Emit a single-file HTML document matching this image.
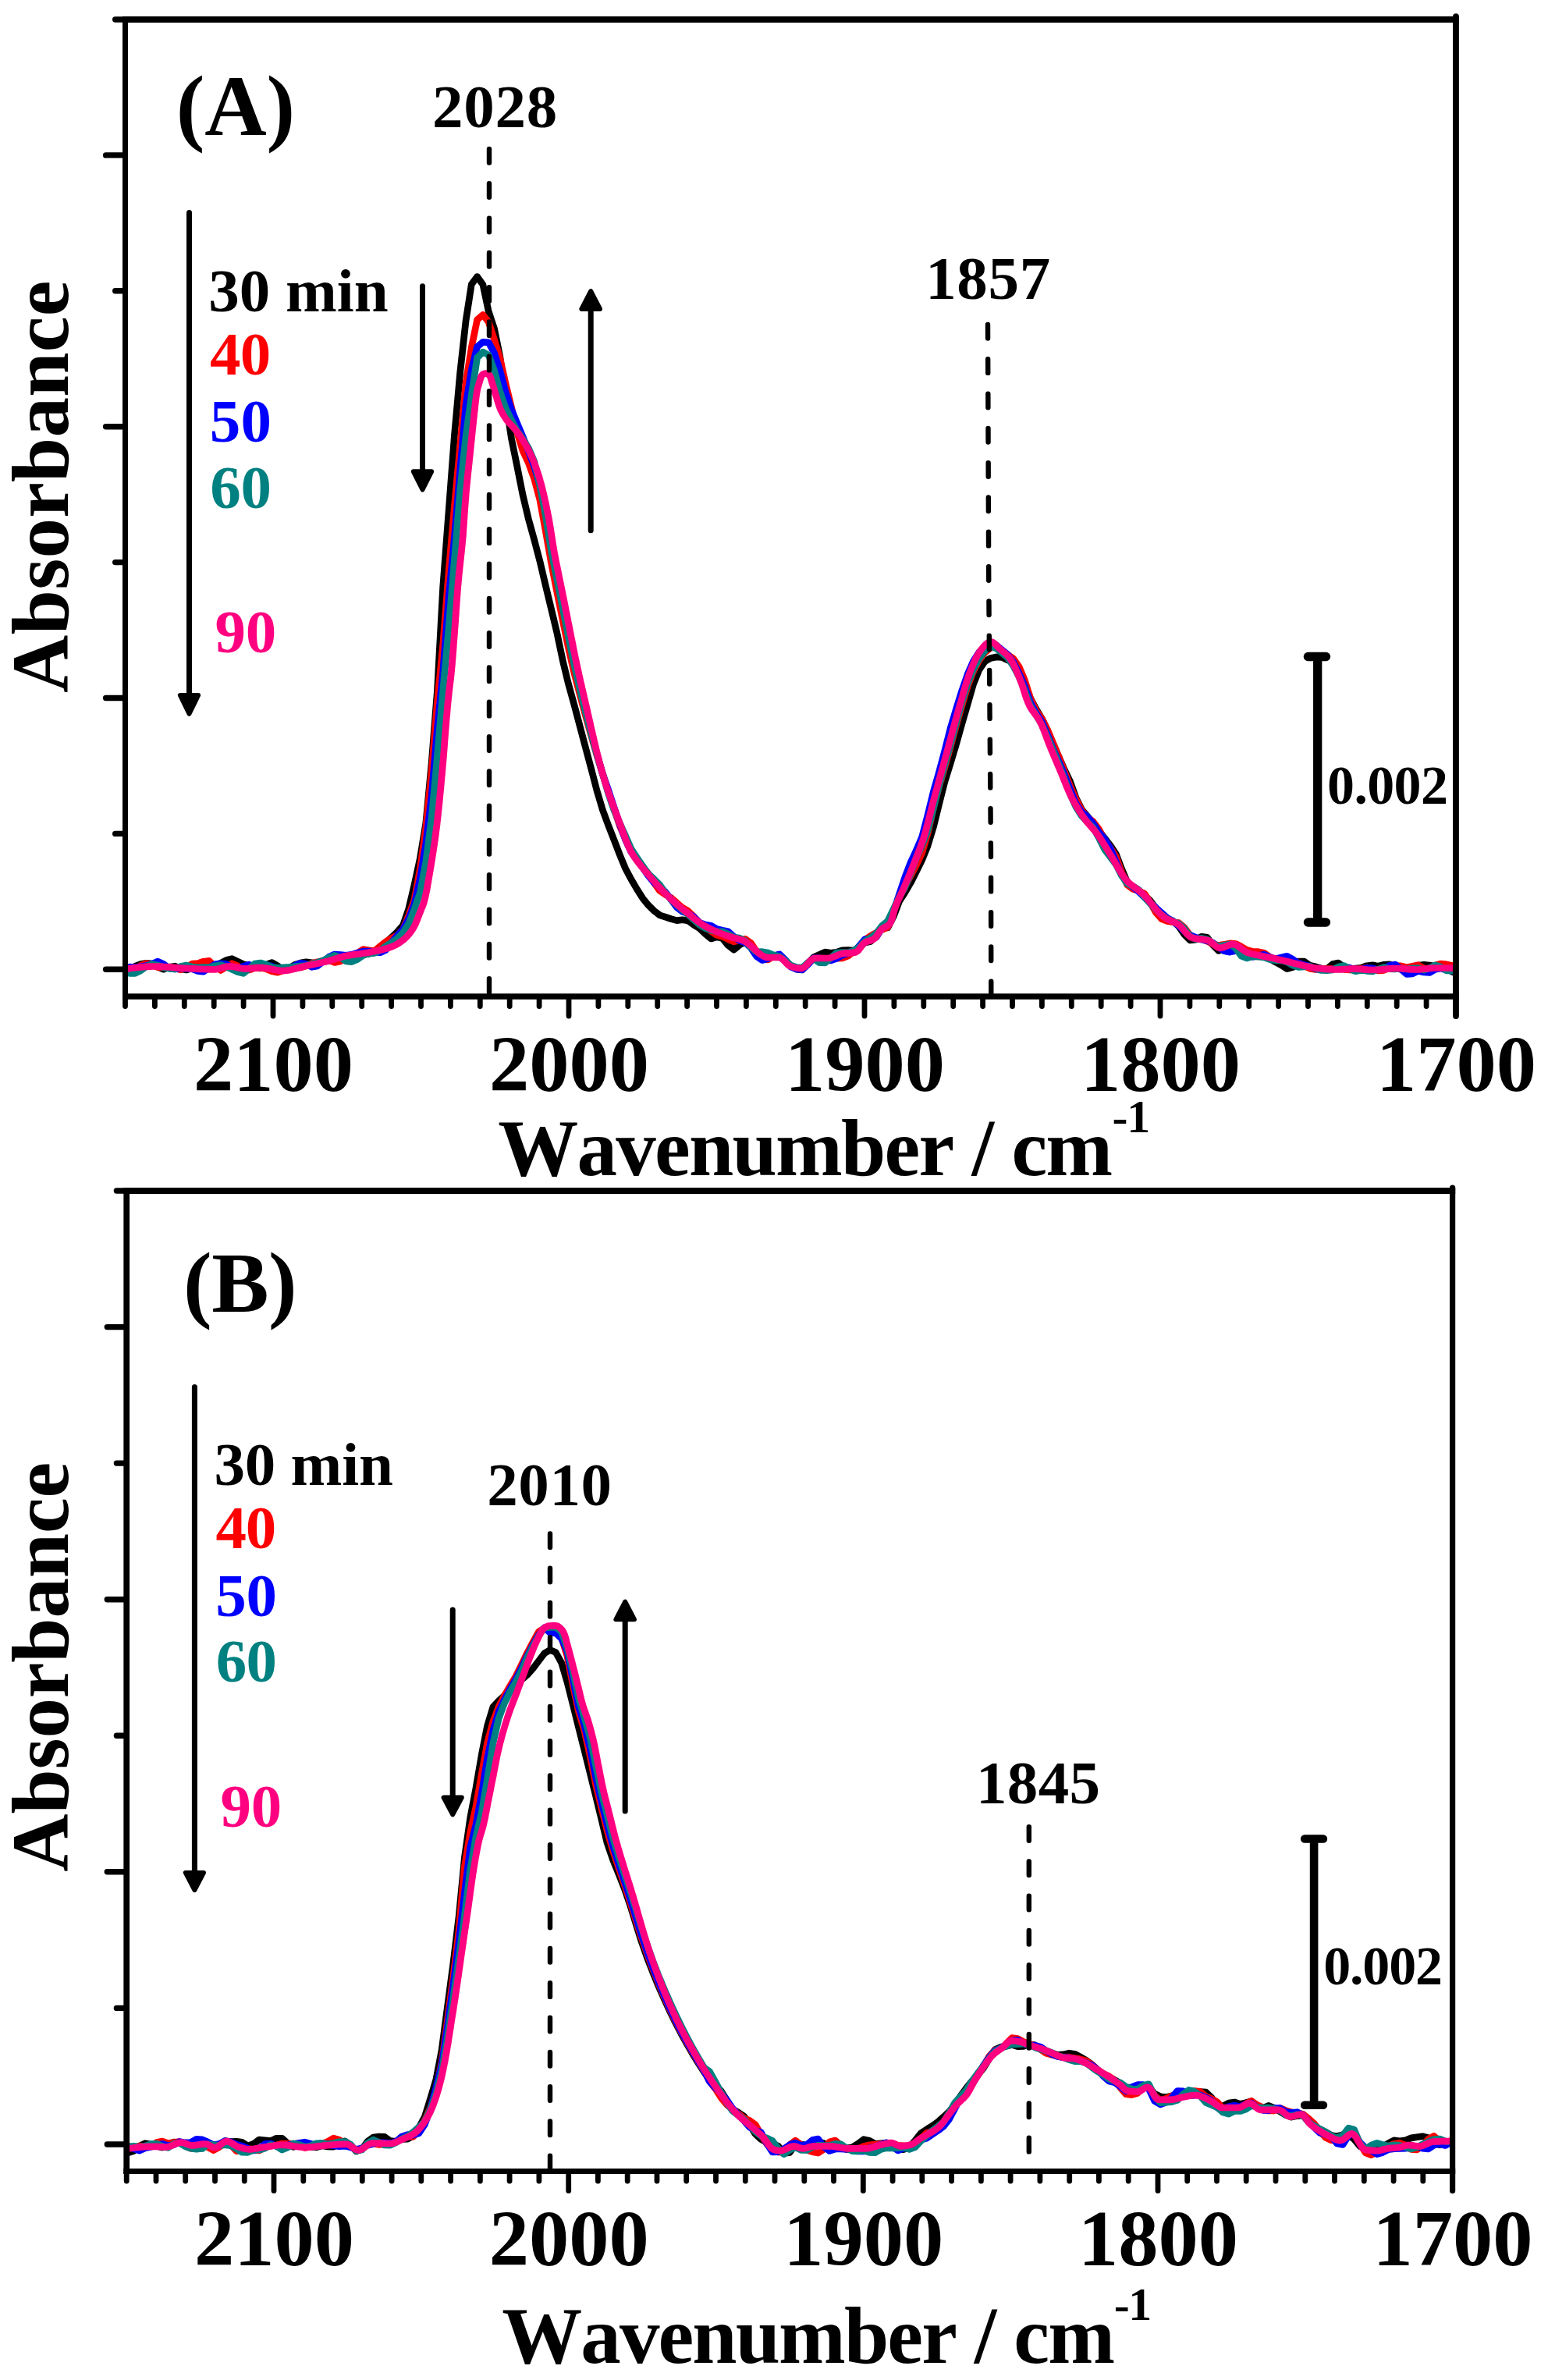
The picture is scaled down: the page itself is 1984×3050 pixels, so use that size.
<!DOCTYPE html>
<html><head><meta charset="utf-8"><title>FTIR spectra</title>
<style>
html,body{margin:0;padding:0;background:#fff;overflow:hidden;width:1984px;height:3050px;}
svg{display:block;}
text{font-family:"Liberation Serif","Times New Roman",Times,serif;font-weight:bold;font-kerning:none;}
</style></head><body>
<svg width="1984" height="3050" viewBox="0 0 1984 3050">
<rect width="1984" height="3050" fill="#fff"/>
<g id="panelA">
<clipPath id="clipA"><rect x="160.5" y="25.0" width="1705.5" height="1252.0"/></clipPath>
<g clip-path="url(#clipA)">
<path d="M160.5,1245.8 L165.8,1241.6 L173.1,1238.4 L180.4,1235.5 L187.7,1234.4 L195.0,1235.0 L202.3,1239.3 L209.6,1242.2 L216.9,1239.2 L224.2,1238.2 L231.5,1241.6 L238.8,1243.0 L246.2,1240.7 L253.5,1239.1 L260.8,1241.5 L268.1,1242.0 L275.4,1238.7 L282.7,1234.3 L290.0,1230.5 L297.3,1228.7 L304.6,1232.1 L311.9,1235.6 L319.2,1237.4 L326.5,1239.4 L333.9,1240.6 L341.2,1236.4 L348.5,1233.5 L355.8,1237.7 L363.1,1243.1 L370.4,1240.9 L377.7,1236.4 L385.0,1234.1 L392.3,1232.8 L399.6,1233.9 L406.9,1235.1 L414.3,1232.2 L421.6,1231.4 L428.9,1231.5 L436.2,1228.0 L443.5,1225.9 L450.8,1226.0 L458.1,1223.1 L465.4,1220.1 L472.7,1222.3 L480.0,1220.7 L487.3,1213.0 L494.7,1207.5 L502.0,1201.1 L509.3,1194.0 L516.6,1185.7 L523.9,1164.3 L531.2,1133.3 L538.5,1099.3 L545.8,1055.0 L553.1,978.3 L560.4,885.9 L567.7,752.3 L575.1,654.9 L582.4,558.3 L589.7,477.5 L597.0,411.5 L604.3,364.4 L611.6,354.5 L618.9,364.7 L626.2,399.1 L633.5,421.1 L640.8,456.8 L648.1,513.7 L655.5,562.0 L662.8,597.9 L670.1,634.6 L677.4,665.3 L684.7,691.6 L692.0,719.6 L699.3,750.6 L706.6,780.8 L713.9,811.3 L721.2,846.2 L728.5,876.4 L735.9,903.2 L743.2,930.6 L750.5,958.1 L757.8,985.5 L765.1,1013.5 L772.4,1038.0 L779.7,1057.8 L787.0,1076.4 L794.3,1095.4 L801.6,1113.0 L808.9,1126.8 L816.3,1139.4 L823.6,1150.9 L830.9,1159.9 L838.2,1167.1 L845.5,1172.8 L852.8,1175.1 L860.1,1177.6 L867.4,1179.6 L874.7,1178.8 L882.0,1179.9 L889.3,1185.3 L896.7,1189.9 L904.0,1196.9 L911.3,1203.0 L918.6,1200.8 L925.9,1202.4 L933.2,1211.4 L940.5,1217.2 L947.8,1211.1 L955.1,1206.3 L962.4,1214.3 L969.7,1219.7 L977.0,1222.0 L984.4,1225.1 L991.7,1225.3 L999.0,1224.5 L1006.3,1230.3 L1013.6,1238.0 L1020.9,1242.2 L1028.2,1242.9 L1035.5,1234.3 L1042.8,1226.7 L1050.1,1223.4 L1057.4,1220.1 L1064.8,1221.3 L1072.1,1220.4 L1079.4,1217.8 L1086.7,1217.5 L1094.0,1218.2 L1101.3,1214.4 L1108.6,1208.0 L1115.9,1206.4 L1123.2,1199.2 L1130.5,1188.6 L1137.8,1189.0 L1145.2,1174.6 L1152.5,1155.2 L1159.8,1143.8 L1167.1,1131.4 L1174.4,1117.1 L1181.7,1102.1 L1189.0,1084.1 L1196.3,1060.1 L1203.6,1030.4 L1210.9,1001.7 L1218.2,978.3 L1225.6,953.6 L1232.9,927.4 L1240.2,902.2 L1247.5,876.8 L1254.8,858.6 L1262.1,847.8 L1269.4,843.5 L1276.7,841.9 L1284.0,842.4 L1291.3,845.8 L1298.6,847.9 L1306.0,858.2 L1313.3,875.2 L1320.6,894.7 L1327.9,908.6 L1335.2,920.7 L1342.5,935.9 L1349.8,953.3 L1357.1,970.0 L1364.4,986.7 L1371.7,1001.9 L1379.0,1022.4 L1386.4,1037.3 L1393.7,1046.1 L1401.0,1055.2 L1408.3,1064.3 L1415.6,1073.8 L1422.9,1083.3 L1430.2,1094.1 L1437.5,1113.3 L1444.8,1130.4 L1452.1,1137.1 L1459.4,1141.3 L1466.8,1147.4 L1474.1,1154.0 L1481.4,1163.9 L1488.7,1173.2 L1496.0,1177.6 L1503.3,1180.1 L1510.6,1187.0 L1517.9,1197.6 L1525.2,1204.8 L1532.5,1204.1 L1539.8,1200.4 L1547.2,1201.4 L1554.5,1211.2 L1561.8,1218.4 L1569.1,1215.6 L1576.4,1213.3 L1583.7,1215.4 L1591.0,1220.8 L1598.3,1223.8 L1605.6,1225.3 L1612.9,1225.9 L1620.2,1225.8 L1627.6,1228.5 L1634.9,1233.0 L1642.2,1236.8 L1649.5,1241.5 L1656.8,1239.6 L1664.1,1232.1 L1671.4,1232.1 L1678.7,1237.3 L1686.0,1238.8 L1693.3,1241.0 L1700.6,1241.8 L1708.0,1235.5 L1715.3,1234.0 L1722.6,1239.5 L1729.9,1241.9 L1737.2,1241.0 L1744.5,1240.4 L1751.8,1237.7 L1759.1,1236.8 L1766.4,1238.2 L1773.7,1236.3 L1781.0,1235.8 L1788.3,1239.7 L1795.7,1242.5 L1803.0,1241.3 L1810.3,1239.0 L1817.6,1237.3 L1824.9,1236.3 L1832.2,1237.0 L1839.5,1238.4 L1846.8,1239.1 L1854.1,1240.8 L1861.4,1245.4 L1866.0,1247.1" fill="none" stroke="#000" stroke-width="8.7" stroke-linejoin="round" stroke-linecap="butt"/>
<path d="M160.5,1240.4 L165.8,1241.3 L173.1,1241.1 L180.4,1237.3 L187.7,1234.7 L195.0,1236.5 L202.3,1239.6 L209.6,1239.8 L216.9,1239.1 L224.2,1240.9 L231.5,1242.9 L238.8,1239.5 L246.2,1235.2 L253.5,1234.6 L260.8,1232.2 L268.1,1231.3 L275.4,1238.5 L282.7,1243.5 L290.0,1239.3 L297.3,1234.7 L304.6,1237.7 L311.9,1242.9 L319.2,1243.0 L326.5,1240.6 L333.9,1240.0 L341.2,1241.8 L348.5,1244.8 L355.8,1246.1 L363.1,1243.9 L370.4,1241.7 L377.7,1240.5 L385.0,1240.0 L392.3,1237.8 L399.6,1234.5 L406.9,1232.7 L414.3,1231.2 L421.6,1230.4 L428.9,1233.4 L436.2,1232.0 L443.5,1226.9 L450.8,1225.5 L458.1,1221.4 L465.4,1216.6 L472.7,1217.8 L480.0,1218.6 L487.3,1212.6 L494.7,1206.6 L502.0,1202.1 L509.3,1198.6 L516.6,1190.7 L523.9,1173.2 L531.2,1152.6 L538.5,1112.9 L545.8,1061.2 L553.1,989.1 L560.4,900.7 L567.7,826.5 L575.1,732.5 L582.4,649.0 L589.7,571.3 L597.0,491.2 L604.3,445.2 L611.6,409.8 L618.9,403.4 L626.2,412.6 L633.5,435.1 L640.8,459.1 L648.1,491.6 L655.5,522.1 L662.8,554.1 L670.1,577.9 L677.4,593.4 L684.7,613.6 L692.0,641.0 L699.3,680.6 L706.6,722.0 L713.9,759.0 L721.2,795.0 L728.5,830.2 L735.9,862.5 L743.2,890.2 L750.5,917.0 L757.8,943.1 L765.1,968.2 L772.4,991.9 L779.7,1014.2 L787.0,1036.9 L794.3,1058.2 L801.6,1075.3 L808.9,1090.2 L816.3,1102.6 L823.6,1111.3 L830.9,1119.4 L838.2,1131.3 L845.5,1141.5 L852.8,1146.4 L860.1,1150.5 L867.4,1157.0 L874.7,1163.2 L882.0,1167.6 L889.3,1174.7 L896.7,1182.7 L904.0,1187.7 L911.3,1193.4 L918.6,1198.3 L925.9,1200.2 L933.2,1203.7 L940.5,1206.8 L947.8,1205.0 L955.1,1203.3 L962.4,1208.5 L969.7,1219.4 L977.0,1229.4 L984.4,1229.9 L991.7,1224.9 L999.0,1223.3 L1006.3,1230.7 L1013.6,1238.2 L1020.9,1240.6 L1028.2,1241.2 L1035.5,1235.2 L1042.8,1228.1 L1050.1,1227.8 L1057.4,1228.3 L1064.8,1228.0 L1072.1,1228.1 L1079.4,1227.9 L1086.7,1225.2 L1094.0,1219.5 L1101.3,1213.0 L1108.6,1204.1 L1115.9,1199.3 L1123.2,1195.2 L1130.5,1191.4 L1137.8,1188.3 L1145.2,1168.9 L1152.5,1148.4 L1159.8,1136.1 L1167.1,1122.3 L1174.4,1108.6 L1181.7,1093.0 L1189.0,1068.3 L1196.3,1035.9 L1203.6,1007.6 L1210.9,983.4 L1218.2,956.9 L1225.6,929.6 L1232.9,904.0 L1240.2,879.4 L1247.5,860.4 L1254.8,846.5 L1262.1,836.5 L1269.4,830.3 L1276.7,829.1 L1284.0,834.3 L1291.3,839.0 L1298.6,843.9 L1306.0,854.2 L1313.3,871.5 L1320.6,894.9 L1327.9,910.5 L1335.2,920.7 L1342.5,935.1 L1349.8,952.6 L1357.1,970.0 L1364.4,988.9 L1371.7,1007.6 L1379.0,1024.1 L1386.4,1038.3 L1393.7,1047.4 L1401.0,1052.8 L1408.3,1062.3 L1415.6,1076.2 L1422.9,1086.1 L1430.2,1097.5 L1437.5,1118.0 L1444.8,1134.1 L1452.1,1139.4 L1459.4,1141.7 L1466.8,1145.1 L1474.1,1156.4 L1481.4,1169.4 L1488.7,1177.6 L1496.0,1180.4 L1503.3,1181.8 L1510.6,1182.6 L1517.9,1188.7 L1525.2,1198.4 L1532.5,1202.9 L1539.8,1203.4 L1547.2,1206.2 L1554.5,1209.9 L1561.8,1211.6 L1569.1,1210.4 L1576.4,1208.9 L1583.7,1209.5 L1591.0,1213.2 L1598.3,1217.4 L1605.6,1219.5 L1612.9,1219.7 L1620.2,1221.2 L1627.6,1226.6 L1634.9,1228.8 L1642.2,1227.9 L1649.5,1229.3 L1656.8,1231.2 L1664.1,1233.8 L1671.4,1237.7 L1678.7,1241.1 L1686.0,1242.4 L1693.3,1241.9 L1700.6,1241.6 L1708.0,1241.4 L1715.3,1241.1 L1722.6,1242.3 L1729.9,1242.9 L1737.2,1242.8 L1744.5,1241.3 L1751.8,1239.9 L1759.1,1241.4 L1766.4,1244.0 L1773.7,1243.3 L1781.0,1240.5 L1788.3,1237.5 L1795.7,1237.9 L1803.0,1239.7 L1810.3,1238.3 L1817.6,1236.7 L1824.9,1240.8 L1832.2,1241.5 L1839.5,1236.9 L1846.8,1235.0 L1854.1,1235.9 L1861.4,1237.4 L1866.0,1238.2" fill="none" stroke="#ff0000" stroke-width="8.7" stroke-linejoin="round" stroke-linecap="butt"/>
<path d="M160.5,1240.0 L165.8,1239.2 L173.1,1239.6 L180.4,1238.9 L187.7,1237.6 L195.0,1235.2 L202.3,1232.1 L209.6,1235.4 L216.9,1241.0 L224.2,1242.0 L231.5,1240.7 L238.8,1241.4 L246.2,1241.7 L253.5,1244.5 L260.8,1245.2 L268.1,1240.2 L275.4,1235.9 L282.7,1234.8 L290.0,1235.4 L297.3,1239.7 L304.6,1241.7 L311.9,1238.3 L319.2,1236.1 L326.5,1239.6 L333.9,1239.2 L341.2,1236.6 L348.5,1238.3 L355.8,1243.0 L363.1,1243.6 L370.4,1241.6 L377.7,1237.5 L385.0,1234.3 L392.3,1235.3 L399.6,1239.3 L406.9,1237.9 L414.3,1232.1 L421.6,1226.3 L428.9,1223.0 L436.2,1223.5 L443.5,1224.4 L450.8,1223.4 L458.1,1221.1 L465.4,1219.1 L472.7,1219.0 L480.0,1220.1 L487.3,1220.7 L494.7,1217.2 L502.0,1207.7 L509.3,1198.7 L516.6,1191.1 L523.9,1177.0 L531.2,1158.3 L538.5,1125.7 L545.8,1081.1 L553.1,1020.2 L560.4,934.4 L567.7,861.6 L575.1,765.7 L582.4,689.4 L589.7,602.8 L597.0,519.1 L604.3,473.7 L611.6,444.3 L618.9,438.3 L626.2,438.9 L633.5,452.4 L640.8,474.8 L648.1,502.6 L655.5,524.6 L662.8,542.4 L670.1,559.7 L677.4,578.0 L684.7,597.8 L692.0,621.6 L699.3,654.6 L706.6,697.4 L713.9,735.6 L721.2,771.7 L728.5,808.6 L735.9,845.0 L743.2,878.5 L750.5,909.3 L757.8,938.7 L765.1,966.4 L772.4,991.8 L779.7,1012.5 L787.0,1034.7 L794.3,1056.2 L801.6,1076.1 L808.9,1091.8 L816.3,1101.8 L823.6,1111.7 L830.9,1122.2 L838.2,1131.1 L845.5,1136.7 L852.8,1143.0 L860.1,1152.9 L867.4,1162.7 L874.7,1168.3 L882.0,1170.7 L889.3,1175.0 L896.7,1182.4 L904.0,1185.0 L911.3,1186.2 L918.6,1190.5 L925.9,1192.2 L933.2,1193.7 L940.5,1200.2 L947.8,1205.4 L955.1,1207.9 L962.4,1214.8 L969.7,1225.7 L977.0,1230.5 L984.4,1228.5 L991.7,1224.7 L999.0,1222.9 L1006.3,1229.9 L1013.6,1239.2 L1020.9,1242.0 L1028.2,1242.8 L1035.5,1236.1 L1042.8,1227.8 L1050.1,1227.8 L1057.4,1230.4 L1064.8,1231.0 L1072.1,1228.4 L1079.4,1224.0 L1086.7,1221.6 L1094.0,1219.9 L1101.3,1212.3 L1108.6,1203.5 L1115.9,1204.4 L1123.2,1201.1 L1130.5,1189.2 L1137.8,1182.9 L1145.2,1168.0 L1152.5,1146.0 L1159.8,1124.4 L1167.1,1105.3 L1174.4,1089.7 L1181.7,1072.5 L1189.0,1044.5 L1196.3,1014.7 L1203.6,989.1 L1210.9,961.8 L1218.2,933.1 L1225.6,908.2 L1232.9,884.9 L1240.2,863.8 L1247.5,847.3 L1254.8,835.8 L1262.1,829.2 L1269.4,825.8 L1276.7,826.7 L1284.0,832.6 L1291.3,838.7 L1298.6,848.3 L1306.0,862.8 L1313.3,879.6 L1320.6,900.2 L1327.9,913.8 L1335.2,924.8 L1342.5,941.7 L1349.8,960.1 L1357.1,976.1 L1364.4,993.0 L1371.7,1012.0 L1379.0,1029.9 L1386.4,1040.7 L1393.7,1046.5 L1401.0,1055.2 L1408.3,1066.2 L1415.6,1074.9 L1422.9,1086.8 L1430.2,1104.2 L1437.5,1121.2 L1444.8,1130.4 L1452.1,1136.7 L1459.4,1142.7 L1466.8,1149.9 L1474.1,1157.2 L1481.4,1163.2 L1488.7,1169.7 L1496.0,1176.2 L1503.3,1180.5 L1510.6,1186.3 L1517.9,1193.3 L1525.2,1198.4 L1532.5,1201.3 L1539.8,1204.1 L1547.2,1205.7 L1554.5,1208.2 L1561.8,1214.0 L1569.1,1218.8 L1576.4,1220.1 L1583.7,1218.6 L1591.0,1218.6 L1598.3,1223.0 L1605.6,1226.4 L1612.9,1224.6 L1620.2,1223.3 L1627.6,1226.8 L1634.9,1228.9 L1642.2,1226.9 L1649.5,1225.3 L1656.8,1229.3 L1664.1,1234.5 L1671.4,1236.5 L1678.7,1238.2 L1686.0,1241.6 L1693.3,1242.6 L1700.6,1242.7 L1708.0,1242.0 L1715.3,1240.5 L1722.6,1238.8 L1729.9,1240.3 L1737.2,1242.9 L1744.5,1242.5 L1751.8,1240.4 L1759.1,1240.9 L1766.4,1242.7 L1773.7,1241.4 L1781.0,1237.2 L1788.3,1236.0 L1795.7,1242.2 L1803.0,1248.5 L1810.3,1247.8 L1817.6,1244.3 L1824.9,1246.0 L1832.2,1246.4 L1839.5,1242.2 L1846.8,1240.9 L1854.1,1243.5 L1861.4,1244.2 L1866.0,1241.8" fill="none" stroke="#0000ff" stroke-width="8.7" stroke-linejoin="round" stroke-linecap="butt"/>
<path d="M160.5,1242.7 L165.8,1247.3 L173.1,1247.4 L180.4,1243.8 L187.7,1238.5 L195.0,1235.5 L202.3,1237.2 L209.6,1239.9 L216.9,1241.1 L224.2,1241.8 L231.5,1238.4 L238.8,1237.0 L246.2,1239.0 L253.5,1240.0 L260.8,1239.5 L268.1,1239.9 L275.4,1237.7 L282.7,1236.6 L290.0,1239.1 L297.3,1242.2 L304.6,1245.5 L311.9,1247.4 L319.2,1241.4 L326.5,1235.0 L333.9,1234.0 L341.2,1236.1 L348.5,1239.5 L355.8,1240.4 L363.1,1239.8 L370.4,1239.4 L377.7,1238.8 L385.0,1238.1 L392.3,1237.5 L399.6,1235.3 L406.9,1233.4 L414.3,1230.9 L421.6,1227.0 L428.9,1224.3 L436.2,1227.0 L443.5,1232.0 L450.8,1232.6 L458.1,1229.4 L465.4,1224.4 L472.7,1221.8 L480.0,1221.3 L487.3,1217.9 L494.7,1212.3 L502.0,1208.0 L509.3,1202.5 L516.6,1195.0 L523.9,1183.6 L531.2,1164.8 L538.5,1143.8 L545.8,1104.6 L553.1,1049.4 L560.4,970.0 L567.7,885.7 L575.1,805.0 L582.4,717.6 L589.7,628.9 L597.0,559.6 L604.3,506.4 L611.6,458.4 L618.9,451.2 L626.2,455.0 L633.5,474.8 L640.8,501.9 L648.1,523.1 L655.5,538.3 L662.8,552.2 L670.1,562.4 L677.4,574.2 L684.7,591.2 L692.0,622.8 L699.3,660.7 L706.6,706.4 L713.9,743.0 L721.2,779.2 L728.5,816.1 L735.9,852.1 L743.2,883.5 L750.5,912.7 L757.8,940.7 L765.1,967.2 L772.4,991.8 L779.7,1017.0 L787.0,1038.3 L794.3,1054.7 L801.6,1071.1 L808.9,1087.5 L816.3,1099.1 L823.6,1109.4 L830.9,1119.7 L838.2,1126.5 L845.5,1133.8 L852.8,1144.2 L860.1,1153.1 L867.4,1159.6 L874.7,1166.2 L882.0,1172.1 L889.3,1178.7 L896.7,1185.2 L904.0,1189.5 L911.3,1192.3 L918.6,1193.6 L925.9,1193.8 L933.2,1196.9 L940.5,1201.2 L947.8,1202.1 L955.1,1205.9 L962.4,1214.6 L969.7,1219.9 L977.0,1219.7 L984.4,1221.0 L991.7,1224.0 L999.0,1225.7 L1006.3,1230.9 L1013.6,1237.0 L1020.9,1239.7 L1028.2,1240.2 L1035.5,1233.6 L1042.8,1228.6 L1050.1,1233.6 L1057.4,1234.0 L1064.8,1227.6 L1072.1,1221.1 L1079.4,1220.5 L1086.7,1220.6 L1094.0,1218.4 L1101.3,1213.7 L1108.6,1205.9 L1115.9,1201.6 L1123.2,1195.9 L1130.5,1186.4 L1137.8,1180.2 L1145.2,1165.0 L1152.5,1149.6 L1159.8,1137.5 L1167.1,1119.3 L1174.4,1099.6 L1181.7,1083.4 L1189.0,1064.4 L1196.3,1036.1 L1203.6,1006.6 L1210.9,980.1 L1218.2,953.9 L1225.6,926.3 L1232.9,899.7 L1240.2,875.9 L1247.5,857.9 L1254.8,844.1 L1262.1,834.1 L1269.4,828.2 L1276.7,830.9 L1284.0,836.6 L1291.3,842.7 L1298.6,853.2 L1306.0,867.3 L1313.3,884.8 L1320.6,904.5 L1327.9,916.5 L1335.2,928.4 L1342.5,944.8 L1349.8,961.7 L1357.1,979.8 L1364.4,998.7 L1371.7,1018.2 L1379.0,1034.2 L1386.4,1045.8 L1393.7,1053.5 L1401.0,1060.7 L1408.3,1073.5 L1415.6,1088.3 L1422.9,1098.1 L1430.2,1107.8 L1437.5,1122.1 L1444.8,1132.5 L1452.1,1135.7 L1459.4,1140.3 L1466.8,1149.6 L1474.1,1157.9 L1481.4,1165.4 L1488.7,1172.4 L1496.0,1177.6 L1503.3,1180.8 L1510.6,1183.6 L1517.9,1190.1 L1525.2,1199.9 L1532.5,1203.5 L1539.8,1202.2 L1547.2,1203.9 L1554.5,1209.0 L1561.8,1212.9 L1569.1,1211.3 L1576.4,1209.9 L1583.7,1215.1 L1591.0,1225.2 L1598.3,1227.9 L1605.6,1225.7 L1612.9,1225.8 L1620.2,1227.0 L1627.6,1229.6 L1634.9,1230.8 L1642.2,1230.6 L1649.5,1232.8 L1656.8,1237.1 L1664.1,1239.3 L1671.4,1239.0 L1678.7,1238.3 L1686.0,1241.2 L1693.3,1243.5 L1700.6,1243.7 L1708.0,1242.9 L1715.3,1239.1 L1722.6,1237.6 L1729.9,1242.0 L1737.2,1244.7 L1744.5,1243.4 L1751.8,1244.3 L1759.1,1244.9 L1766.4,1242.1 L1773.7,1239.6 L1781.0,1241.6 L1788.3,1241.8 L1795.7,1241.0 L1803.0,1242.0 L1810.3,1241.0 L1817.6,1240.6 L1824.9,1243.2 L1832.2,1240.7 L1839.5,1236.8 L1846.8,1239.2 L1854.1,1243.8 L1861.4,1244.0 L1866.0,1240.5" fill="none" stroke="#008080" stroke-width="8.7" stroke-linejoin="round" stroke-linecap="butt"/>
<path d="M160.5,1242.0 L163.0,1241.6 L165.5,1241.2 L168.0,1240.8 L170.4,1240.5 L172.9,1240.1 L175.4,1239.8 L177.9,1239.6 L180.4,1239.3 L182.9,1239.1 L185.4,1238.9 L187.9,1238.8 L190.4,1238.7 L192.9,1238.6 L195.3,1238.5 L197.8,1238.5 L200.3,1238.5 L202.8,1238.6 L205.3,1238.7 L207.8,1238.8 L210.3,1239.0 L212.8,1239.1 L215.3,1239.3 L217.8,1239.5 L220.3,1239.7 L222.8,1239.9 L225.3,1240.1 L227.8,1240.3 L230.3,1240.5 L232.8,1240.6 L235.3,1240.8 L237.8,1240.9 L240.3,1241.0 L242.8,1241.1 L245.3,1241.3 L247.8,1241.4 L250.3,1241.5 L252.8,1241.6 L255.3,1241.8 L257.8,1241.9 L260.3,1242.0 L262.8,1242.1 L265.3,1242.2 L267.8,1242.2 L270.3,1242.3 L272.8,1242.3 L275.2,1242.3 L277.7,1242.1 L280.2,1241.6 L282.6,1241.0 L285.0,1240.2 L287.5,1239.5 L289.9,1238.9 L292.4,1238.5 L294.8,1238.4 L297.3,1238.6 L299.8,1239.0 L302.2,1239.5 L304.7,1240.0 L307.2,1240.6 L309.7,1241.0 L312.1,1241.3 L314.6,1241.4 L317.1,1241.3 L319.6,1241.1 L322.1,1240.9 L324.6,1240.6 L327.1,1240.3 L329.6,1240.1 L332.1,1240.0 L334.6,1240.0 L337.0,1240.2 L339.5,1240.5 L342.0,1240.9 L344.5,1241.3 L347.0,1241.8 L349.4,1242.4 L351.9,1242.8 L354.4,1243.3 L356.9,1243.6 L359.3,1243.9 L361.8,1244.0 L364.3,1243.9 L366.7,1243.7 L369.2,1243.4 L371.6,1243.0 L374.1,1242.4 L376.5,1241.8 L379.0,1241.2 L381.4,1240.5 L383.9,1239.9 L386.3,1239.2 L388.7,1238.6 L391.2,1238.0 L393.6,1237.5 L396.1,1237.0 L398.5,1236.5 L401.0,1236.0 L403.4,1235.5 L405.9,1234.9 L408.3,1234.4 L410.8,1233.9 L413.2,1233.3 L415.6,1232.8 L418.1,1232.2 L420.5,1231.6 L422.9,1230.9 L425.3,1230.2 L427.7,1229.5 L430.1,1228.8 L432.5,1228.0 L434.9,1227.3 L437.3,1226.6 L439.7,1225.9 L442.1,1225.3 L444.5,1224.8 L447.0,1224.4 L449.5,1224.0 L451.9,1223.6 L454.4,1223.2 L456.9,1222.9 L459.4,1222.5 L461.8,1222.2 L464.3,1221.8 L466.8,1221.5 L469.3,1221.1 L471.8,1220.7 L474.2,1220.3 L476.7,1219.8 L479.1,1219.3 L481.6,1218.8 L484.1,1218.3 L486.5,1217.8 L489.0,1217.2 L491.5,1216.6 L493.9,1215.9 L496.3,1215.2 L498.6,1214.5 L500.9,1213.7 L503.2,1212.8 L505.5,1211.8 L507.7,1210.6 L510.0,1209.3 L512.1,1208.0 L514.2,1206.5 L516.2,1205.0 L518.1,1203.5 L519.8,1201.8 L521.6,1200.1 L523.3,1198.2 L524.9,1196.2 L526.5,1194.2 L527.9,1192.1 L529.3,1190.0 L530.6,1187.8 L531.7,1185.7 L532.8,1183.4 L533.7,1181.1 L534.7,1178.8 L535.6,1176.4 L536.4,1174.1 L537.3,1171.7 L538.3,1169.4 L539.2,1167.1 L540.2,1164.7 L541.1,1162.4 L542.0,1160.1 L542.9,1157.7 L543.6,1155.4 L544.2,1153.0 L544.8,1150.6 L545.4,1148.1 L545.9,1145.7 L546.4,1143.2 L546.9,1140.8 L547.4,1138.3 L547.8,1135.8 L548.2,1133.4 L548.7,1130.9 L549.1,1128.4 L549.5,1125.9 L549.9,1123.5 L550.3,1121.0 L550.8,1118.6 L551.2,1116.1 L551.6,1113.6 L552.0,1111.2 L552.4,1108.7 L552.8,1106.2 L553.2,1103.8 L553.6,1101.3 L554.0,1098.8 L554.4,1096.3 L554.8,1093.9 L555.2,1091.4 L555.6,1088.9 L555.9,1086.5 L556.3,1084.0 L556.7,1081.5 L557.0,1079.0 L557.4,1076.6 L557.7,1074.1 L558.1,1071.6 L558.4,1069.1 L558.7,1066.6 L559.0,1064.2 L559.3,1061.7 L559.7,1059.2 L560.0,1056.7 L560.2,1054.3 L560.5,1051.8 L560.8,1049.3 L561.1,1046.8 L561.4,1044.3 L561.6,1041.8 L561.9,1039.3 L562.2,1036.9 L562.4,1034.4 L562.7,1031.9 L562.9,1029.4 L563.2,1026.9 L563.4,1024.4 L563.7,1021.9 L563.9,1019.4 L564.1,1017.0 L564.4,1014.5 L564.6,1012.0 L564.9,1009.5 L565.1,1007.0 L565.3,1004.5 L565.5,1002.0 L565.8,999.5 L566.0,997.0 L566.2,994.5 L566.5,992.1 L566.7,989.6 L566.9,987.1 L567.1,984.6 L567.3,982.1 L567.5,979.6 L567.8,977.1 L568.0,974.6 L568.2,972.1 L568.4,969.6 L568.6,967.1 L568.8,964.7 L569.0,962.2 L569.2,959.7 L569.4,957.2 L569.6,954.7 L569.7,952.2 L569.9,949.7 L570.1,947.2 L570.3,944.7 L570.5,942.2 L570.7,939.7 L570.9,937.2 L571.1,934.7 L571.3,932.2 L571.5,929.8 L571.7,927.3 L571.9,924.8 L572.1,922.3 L572.3,919.8 L572.5,917.3 L572.8,914.8 L573.0,912.3 L573.2,909.8 L573.4,907.3 L573.6,904.8 L573.9,902.4 L574.1,899.9 L574.4,897.4 L574.6,894.9 L574.9,892.4 L575.2,889.9 L575.4,887.4 L575.7,885.0 L576.0,882.5 L576.3,880.0 L576.6,877.5 L576.9,875.0 L577.2,872.6 L577.5,870.1 L577.8,867.6 L578.1,865.1 L578.3,862.6 L578.6,860.1 L578.8,857.6 L579.0,855.1 L579.3,852.7 L579.5,850.2 L579.7,847.7 L579.9,845.2 L580.1,842.7 L580.3,840.2 L580.5,837.7 L580.7,835.2 L580.9,832.7 L581.1,830.2 L581.3,827.7 L581.4,825.2 L581.6,822.8 L581.8,820.3 L582.0,817.8 L582.2,815.3 L582.4,812.8 L582.6,810.3 L582.7,807.8 L582.9,805.3 L583.1,802.8 L583.3,800.3 L583.5,797.8 L583.7,795.3 L583.8,792.8 L584.0,790.3 L584.2,787.8 L584.4,785.3 L584.5,782.9 L584.7,780.4 L584.9,777.9 L585.1,775.4 L585.2,772.9 L585.4,770.4 L585.6,767.9 L585.8,765.4 L586.0,762.9 L586.1,760.4 L586.3,757.9 L586.5,755.4 L586.7,752.9 L586.9,750.4 L587.2,748.0 L587.4,745.5 L587.6,743.0 L587.8,740.5 L588.1,738.0 L588.3,735.5 L588.6,733.0 L588.9,730.5 L589.1,728.1 L589.4,725.6 L589.7,723.1 L589.9,720.6 L590.2,718.1 L590.5,715.6 L590.7,713.1 L591.0,710.6 L591.3,708.2 L591.5,705.7 L591.8,703.2 L592.0,700.7 L592.3,698.2 L592.5,695.7 L592.7,693.2 L593.0,690.7 L593.2,688.3 L593.4,685.8 L593.6,683.3 L593.7,680.8 L593.9,678.3 L594.1,675.8 L594.3,673.3 L594.5,670.8 L594.6,668.3 L594.8,665.8 L595.0,663.3 L595.1,660.8 L595.3,658.3 L595.5,655.8 L595.7,653.3 L595.8,650.8 L596.0,648.4 L596.2,645.9 L596.4,643.4 L596.6,640.9 L596.8,638.4 L597.0,635.9 L597.2,633.4 L597.4,630.9 L597.6,628.4 L597.8,625.9 L598.1,623.4 L598.3,621.0 L598.6,618.5 L598.8,616.0 L599.1,613.5 L599.3,611.0 L599.6,608.5 L599.8,606.0 L600.1,603.5 L600.4,601.1 L600.6,598.6 L600.9,596.1 L601.2,593.6 L601.4,591.1 L601.7,588.6 L601.9,586.1 L602.2,583.7 L602.5,581.2 L602.7,578.7 L603.0,576.2 L603.2,573.7 L603.5,571.2 L603.7,568.7 L604.0,566.2 L604.3,563.8 L604.5,561.3 L604.8,558.8 L605.0,556.3 L605.3,553.8 L605.5,551.3 L605.8,548.8 L606.1,546.4 L606.3,543.9 L606.6,541.4 L606.8,538.9 L607.1,536.4 L607.4,533.9 L607.6,531.4 L607.9,529.0 L608.2,526.5 L608.5,524.0 L608.7,521.5 L609.0,519.0 L609.3,516.5 L609.6,514.0 L609.9,511.6 L610.2,509.1 L610.5,506.6 L610.9,504.1 L611.3,501.7 L611.8,499.2 L612.4,496.8 L613.1,494.4 L613.8,492.0 L614.5,489.6 L615.3,487.0 L616.0,484.4 L616.9,482.0 L618.2,480.3 L620.3,479.0 L622.8,478.5 L625.4,479.4 L627.2,480.7 L628.3,482.7 L629.2,485.1 L629.9,487.8 L630.7,490.3 L631.4,492.6 L632.2,495.0 L632.9,497.4 L633.5,499.8 L634.2,502.2 L634.9,504.6 L635.7,507.0 L636.4,509.4 L637.1,511.8 L637.9,514.2 L638.6,516.6 L639.4,519.0 L640.2,521.4 L641.1,523.7 L642.1,525.9 L643.2,528.2 L644.4,530.4 L645.7,532.6 L647.0,534.7 L648.4,536.8 L649.8,538.8 L651.5,540.7 L653.1,542.5 L654.9,544.3 L656.6,546.2 L658.3,548.0 L659.9,549.9 L661.5,551.9 L663.0,553.9 L664.5,555.9 L666.0,557.9 L667.4,560.0 L668.8,562.1 L670.2,564.2 L671.5,566.3 L672.8,568.4 L674.0,570.6 L675.2,572.7 L676.4,574.9 L677.6,577.2 L678.7,579.4 L679.8,581.7 L680.9,583.9 L681.9,586.2 L682.9,588.5 L683.8,590.8 L684.7,593.1 L685.6,595.5 L686.5,597.8 L687.3,600.2 L688.1,602.6 L688.9,604.9 L689.7,607.3 L690.4,609.7 L691.2,612.1 L691.9,614.5 L692.5,616.9 L693.2,619.3 L693.9,621.7 L694.5,624.1 L695.1,626.6 L695.7,629.0 L696.3,631.4 L696.9,633.9 L697.4,636.3 L698.0,638.7 L698.5,641.2 L699.1,643.6 L699.6,646.1 L700.1,648.5 L700.6,650.9 L701.1,653.4 L701.6,655.9 L702.1,658.3 L702.6,660.8 L703.1,663.2 L703.5,665.7 L704.0,668.1 L704.4,670.6 L704.8,673.1 L705.2,675.5 L705.6,678.0 L706.0,680.5 L706.4,682.9 L706.8,685.4 L707.2,687.9 L707.5,690.4 L707.9,692.8 L708.3,695.3 L708.7,697.8 L709.1,700.2 L709.5,702.7 L709.9,705.2 L710.3,707.6 L710.8,710.1 L711.3,712.5 L711.7,715.0 L712.2,717.4 L712.7,719.9 L713.2,722.3 L713.7,724.8 L714.2,727.2 L714.7,729.7 L715.2,732.1 L715.7,734.6 L716.2,737.0 L716.7,739.5 L717.2,741.9 L717.7,744.4 L718.2,746.8 L718.7,749.3 L719.2,751.7 L719.7,754.2 L720.2,756.6 L720.7,759.1 L721.2,761.5 L721.7,764.0 L722.2,766.4 L722.7,768.9 L723.2,771.3 L723.7,773.8 L724.1,776.2 L724.6,778.7 L725.1,781.2 L725.6,783.6 L726.1,786.1 L726.6,788.5 L727.1,791.0 L727.5,793.4 L728.0,795.9 L728.5,798.3 L729.0,800.8 L729.5,803.2 L730.0,805.7 L730.5,808.1 L730.9,810.6 L731.4,813.0 L731.9,815.5 L732.4,817.9 L732.9,820.4 L733.4,822.8 L733.9,825.3 L734.3,827.7 L734.8,830.2 L735.3,832.7 L735.8,835.1 L736.3,837.6 L736.8,840.0 L737.3,842.5 L737.8,844.9 L738.3,847.3 L738.9,849.8 L739.4,852.2 L739.9,854.7 L740.4,857.1 L741.0,859.6 L741.5,862.0 L742.0,864.4 L742.6,866.9 L743.1,869.3 L743.7,871.8 L744.2,874.2 L744.8,876.6 L745.4,879.1 L745.9,881.5 L746.5,884.0 L747.0,886.4 L747.6,888.8 L748.2,891.3 L748.7,893.7 L749.3,896.1 L749.9,898.6 L750.4,901.0 L751.0,903.4 L751.5,905.9 L752.1,908.3 L752.7,910.8 L753.2,913.2 L753.8,915.6 L754.3,918.1 L754.9,920.5 L755.4,923.0 L756.0,925.4 L756.5,927.8 L757.1,930.3 L757.6,932.7 L758.2,935.2 L758.8,937.6 L759.3,940.1 L759.9,942.5 L760.5,944.9 L761.0,947.4 L761.6,949.8 L762.2,952.2 L762.8,954.7 L763.3,957.1 L763.9,959.5 L764.5,962.0 L765.1,964.4 L765.7,966.8 L766.3,969.2 L767.0,971.7 L767.6,974.1 L768.2,976.5 L768.9,978.9 L769.5,981.3 L770.2,983.7 L770.8,986.1 L771.5,988.5 L772.2,990.9 L772.9,993.3 L773.6,995.7 L774.3,998.1 L775.0,1000.5 L775.7,1002.9 L776.5,1005.2 L777.3,1007.6 L778.0,1010.0 L778.8,1012.4 L779.6,1014.7 L780.4,1017.1 L781.3,1019.5 L782.1,1021.8 L782.9,1024.2 L783.8,1026.5 L784.6,1028.9 L785.5,1031.3 L786.3,1033.6 L787.2,1036.0 L788.1,1038.3 L788.9,1040.7 L789.8,1043.0 L790.7,1045.3 L791.6,1047.7 L792.4,1050.0 L793.3,1052.4 L794.2,1054.7 L795.1,1057.0 L796.0,1059.4 L796.8,1061.7 L797.7,1064.1 L798.5,1066.5 L799.4,1068.9 L800.3,1071.2 L801.1,1073.6 L802.0,1076.0 L802.9,1078.3 L803.9,1080.6 L804.8,1082.9 L805.8,1085.2 L806.9,1087.4 L807.9,1089.6 L809.1,1091.8 L810.3,1093.9 L811.6,1096.0 L812.9,1098.1 L814.3,1100.2 L815.8,1102.2 L817.3,1104.2 L818.8,1106.2 L820.4,1108.2 L821.9,1110.2 L823.6,1112.2 L825.2,1114.1 L826.8,1116.0 L828.4,1118.0 L830.1,1119.9 L831.7,1121.8 L833.3,1123.7 L834.9,1125.6 L836.5,1127.5 L838.2,1129.4 L839.8,1131.2 L841.5,1133.1 L843.2,1135.0 L844.9,1136.8 L846.6,1138.6 L848.3,1140.5 L850.1,1142.3 L851.8,1144.1 L853.6,1145.8 L855.4,1147.6 L857.1,1149.4 L858.9,1151.1 L860.7,1152.8 L862.6,1154.5 L864.4,1156.2 L866.3,1157.9 L868.1,1159.5 L870.0,1161.1 L872.0,1162.7 L873.9,1164.3 L875.9,1165.9 L877.8,1167.5 L879.8,1169.0 L881.7,1170.6 L883.7,1172.1 L885.6,1173.7 L887.6,1175.3 L889.5,1176.9 L891.5,1178.5 L893.5,1180.0 L895.5,1181.6 L897.5,1183.0 L899.6,1184.4 L901.7,1185.7 L903.8,1186.9 L906.0,1188.1 L908.2,1189.2 L910.4,1190.3 L912.7,1191.4 L915.0,1192.4 L917.3,1193.4 L919.6,1194.4 L921.9,1195.4 L924.3,1196.3 L926.6,1197.2 L929.0,1198.1 L931.4,1198.9 L933.7,1199.7 L936.1,1200.5 L938.5,1201.2 L940.9,1201.9 L943.4,1202.5 L945.8,1203.1 L948.2,1203.8 L950.6,1204.6 L952.8,1205.5 L955.0,1206.6 L957.1,1208.0 L959.2,1209.6 L961.3,1211.3 L963.3,1213.1 L965.3,1215.0 L967.3,1216.9 L969.3,1218.7 L971.3,1220.5 L973.3,1222.1 L975.3,1223.6 L977.4,1224.9 L979.5,1225.9 L981.7,1226.6 L983.9,1227.0 L986.3,1227.0 L988.8,1227.0 L991.4,1227.0 L994.0,1227.0 L996.5,1227.0 L998.7,1227.1 L1000.9,1227.8 L1002.9,1229.2 L1004.8,1231.0 L1006.7,1233.0 L1008.6,1235.1 L1010.6,1236.9 L1012.7,1238.2 L1014.9,1239.0 L1017.3,1239.6 L1019.9,1240.2 L1022.4,1240.7 L1024.9,1240.9 L1027.2,1241.0 L1029.4,1240.3 L1031.4,1238.9 L1033.4,1237.0 L1035.3,1234.9 L1037.2,1232.7 L1039.2,1230.7 L1041.2,1229.2 L1043.3,1228.2 L1045.5,1228.0 L1047.9,1228.0 L1050.4,1228.0 L1053.0,1228.0 L1055.6,1228.0 L1058.1,1228.0 L1060.6,1228.0 L1063.0,1227.7 L1065.4,1227.1 L1067.8,1226.3 L1070.2,1225.4 L1072.6,1224.4 L1074.9,1223.4 L1077.3,1222.6 L1079.7,1222.0 L1082.2,1221.6 L1084.8,1221.4 L1087.4,1221.3 L1090.0,1221.1 L1092.5,1220.9 L1094.8,1220.7 L1096.9,1220.2 L1098.8,1219.1 L1100.6,1217.3 L1102.2,1215.2 L1103.8,1212.9 L1105.5,1210.7 L1107.3,1208.8 L1109.3,1207.5 L1111.6,1206.5 L1114.1,1205.8 L1116.6,1205.0 L1118.8,1204.1 L1120.7,1202.9 L1122.4,1201.2 L1123.9,1199.1 L1125.3,1196.9 L1126.8,1194.7 L1128.3,1192.6 L1130.0,1190.8 L1132.0,1189.4 L1134.4,1188.1 L1136.8,1186.9 L1138.8,1185.6 L1140.3,1184.0 L1141.4,1182.1 L1142.3,1180.0 L1143.2,1177.7 L1143.9,1175.3 L1144.6,1172.8 L1145.3,1170.2 L1145.9,1167.6 L1146.7,1165.0 L1147.4,1162.5 L1148.3,1160.2 L1149.3,1157.9 L1150.3,1155.6 L1151.3,1153.3 L1152.3,1151.0 L1153.4,1148.8 L1154.5,1146.5 L1155.5,1144.2 L1156.6,1142.0 L1157.6,1139.7 L1158.6,1137.4 L1159.6,1135.1 L1160.6,1132.8 L1161.6,1130.5 L1162.5,1128.2 L1163.5,1125.9 L1164.5,1123.6 L1165.4,1121.3 L1166.4,1119.0 L1167.3,1116.7 L1168.3,1114.3 L1169.2,1112.0 L1170.1,1109.7 L1171.1,1107.4 L1172.0,1105.1 L1172.9,1102.7 L1173.8,1100.4 L1174.8,1098.1 L1175.7,1095.8 L1176.6,1093.4 L1177.5,1091.1 L1178.4,1088.8 L1179.3,1086.4 L1180.2,1084.1 L1181.0,1081.7 L1181.9,1079.4 L1182.7,1077.0 L1183.5,1074.6 L1184.2,1072.3 L1185.0,1069.9 L1185.7,1067.5 L1186.4,1065.1 L1187.0,1062.7 L1187.7,1060.3 L1188.3,1057.9 L1189.0,1055.5 L1189.6,1053.0 L1190.2,1050.6 L1190.8,1048.2 L1191.5,1045.8 L1192.1,1043.3 L1192.7,1040.9 L1193.3,1038.5 L1193.9,1036.0 L1194.5,1033.6 L1195.1,1031.2 L1195.7,1028.8 L1196.4,1026.4 L1197.0,1023.9 L1197.7,1021.5 L1198.3,1019.1 L1199.0,1016.7 L1199.6,1014.3 L1200.3,1011.9 L1201.0,1009.5 L1201.6,1007.1 L1202.3,1004.6 L1203.0,1002.2 L1203.6,999.8 L1204.3,997.4 L1205.0,995.0 L1205.6,992.6 L1206.3,990.2 L1207.0,987.8 L1207.6,985.4 L1208.3,983.0 L1209.0,980.6 L1209.6,978.1 L1210.3,975.7 L1211.0,973.3 L1211.6,970.9 L1212.3,968.5 L1213.0,966.1 L1213.6,963.7 L1214.3,961.3 L1215.0,958.9 L1215.6,956.4 L1216.3,954.0 L1216.9,951.6 L1217.6,949.2 L1218.2,946.8 L1218.9,944.4 L1219.5,942.0 L1220.2,939.6 L1220.8,937.1 L1221.5,934.7 L1222.1,932.3 L1222.8,929.9 L1223.5,927.5 L1224.1,925.1 L1224.8,922.7 L1225.5,920.3 L1226.2,917.9 L1226.8,915.5 L1227.5,913.1 L1228.2,910.7 L1228.9,908.3 L1229.6,905.9 L1230.3,903.4 L1231.0,901.0 L1231.7,898.6 L1232.4,896.2 L1233.1,893.8 L1233.7,891.4 L1234.4,888.9 L1235.1,886.5 L1235.8,884.1 L1236.5,881.7 L1237.2,879.3 L1238.0,876.9 L1238.7,874.5 L1239.5,872.1 L1240.2,869.8 L1241.0,867.4 L1241.9,865.0 L1242.7,862.7 L1243.6,860.4 L1244.5,858.1 L1245.4,855.8 L1246.3,853.5 L1247.3,851.1 L1248.3,848.8 L1249.4,846.5 L1250.5,844.1 L1251.7,841.9 L1252.9,839.6 L1254.2,837.5 L1255.5,835.4 L1256.9,833.4 L1258.4,831.6 L1260.0,829.5 L1261.9,827.4 L1263.9,825.4 L1266.0,823.8 L1268.0,822.7 L1270.0,822.4 L1272.0,823.0 L1274.0,824.3 L1276.0,826.1 L1278.0,828.1 L1280.0,830.1 L1281.9,831.9 L1283.8,833.5 L1285.8,835.1 L1287.7,836.8 L1289.6,838.5 L1291.4,840.2 L1293.0,842.0 L1294.5,843.9 L1295.8,845.9 L1297.1,848.0 L1298.3,850.2 L1299.4,852.4 L1300.6,854.7 L1301.6,857.0 L1302.6,859.4 L1303.7,861.7 L1304.6,864.1 L1305.6,866.4 L1306.6,868.7 L1307.5,871.0 L1308.4,873.4 L1309.3,875.7 L1310.1,878.1 L1310.9,880.5 L1311.6,882.9 L1312.4,885.3 L1313.2,887.7 L1313.9,890.1 L1314.7,892.5 L1315.5,894.9 L1316.4,897.2 L1317.3,899.5 L1318.3,901.8 L1319.3,904.0 L1320.4,906.2 L1321.7,908.3 L1323.1,910.4 L1324.6,912.4 L1326.1,914.4 L1327.6,916.5 L1329.1,918.5 L1330.6,920.6 L1331.9,922.7 L1333.0,924.8 L1334.1,927.1 L1335.1,929.3 L1336.1,931.6 L1337.1,933.9 L1338.0,936.2 L1338.9,938.6 L1339.8,940.9 L1340.7,943.3 L1341.5,945.6 L1342.4,948.0 L1343.3,950.4 L1344.2,952.7 L1345.1,955.0 L1346.1,957.3 L1347.0,959.7 L1348.0,962.0 L1349.0,964.3 L1349.9,966.6 L1350.9,968.9 L1351.9,971.2 L1352.9,973.5 L1353.8,975.8 L1354.8,978.1 L1355.8,980.4 L1356.8,982.7 L1357.8,985.0 L1358.7,987.3 L1359.7,989.6 L1360.7,991.9 L1361.6,994.2 L1362.5,996.6 L1363.5,998.9 L1364.4,1001.2 L1365.3,1003.5 L1366.3,1005.9 L1367.2,1008.2 L1368.2,1010.5 L1369.2,1012.8 L1370.2,1015.1 L1371.2,1017.3 L1372.3,1019.6 L1373.4,1021.8 L1374.5,1024.0 L1375.7,1026.2 L1376.9,1028.4 L1378.1,1030.6 L1379.4,1032.8 L1380.7,1034.9 L1382.0,1037.0 L1383.3,1039.2 L1384.7,1041.3 L1386.1,1043.4 L1387.5,1045.4 L1388.9,1047.5 L1390.4,1049.5 L1391.8,1051.5 L1393.4,1053.5 L1395.0,1055.4 L1396.6,1057.3 L1398.2,1059.2 L1399.9,1061.1 L1401.6,1063.0 L1403.2,1064.9 L1404.8,1066.8 L1406.3,1068.8 L1407.7,1070.8 L1409.2,1072.9 L1410.5,1074.9 L1411.9,1077.0 L1413.2,1079.1 L1414.6,1081.3 L1415.9,1083.4 L1417.2,1085.5 L1418.5,1087.7 L1419.8,1089.8 L1421.1,1091.9 L1422.4,1094.1 L1423.7,1096.2 L1425.1,1098.3 L1426.3,1100.5 L1427.6,1102.7 L1428.9,1104.9 L1430.1,1107.1 L1431.4,1109.3 L1432.6,1111.5 L1433.9,1113.7 L1435.2,1115.9 L1436.5,1118.0 L1437.9,1120.1 L1439.3,1122.2 L1440.7,1124.2 L1442.2,1126.1 L1443.7,1128.0 L1445.3,1129.8 L1447.1,1131.5 L1448.9,1133.1 L1450.9,1134.7 L1452.8,1136.2 L1454.9,1137.8 L1456.9,1139.3 L1459.0,1140.8 L1460.9,1142.4 L1462.9,1144.0 L1464.7,1145.7 L1466.5,1147.4 L1468.2,1149.3 L1469.9,1151.2 L1471.5,1153.1 L1473.2,1155.1 L1474.8,1157.1 L1476.4,1159.0 L1478.0,1161.0 L1479.6,1163.0 L1481.3,1164.9 L1482.9,1166.8 L1484.6,1168.7 L1486.3,1170.4 L1488.1,1172.1 L1490.0,1173.7 L1491.8,1175.2 L1493.8,1176.5 L1496.0,1177.7 L1498.2,1178.8 L1500.5,1179.8 L1502.9,1180.9 L1505.2,1181.9 L1507.4,1183.1 L1509.5,1184.3 L1511.5,1185.9 L1513.3,1187.7 L1515.1,1189.7 L1516.9,1191.7 L1518.6,1193.8 L1520.3,1195.8 L1522.1,1197.6 L1523.9,1199.3 L1525.8,1200.7 L1527.8,1201.6 L1530.0,1202.3 L1532.3,1202.7 L1534.8,1203.1 L1537.4,1203.4 L1540.0,1203.7 L1542.6,1204.0 L1545.1,1204.4 L1547.5,1204.9 L1549.7,1205.7 L1551.9,1207.0 L1554.0,1208.7 L1556.1,1210.5 L1558.1,1212.2 L1560.2,1213.7 L1562.4,1214.6 L1564.6,1214.8 L1567.0,1214.3 L1569.4,1213.5 L1571.8,1212.5 L1574.3,1211.4 L1576.7,1210.6 L1579.1,1210.1 L1581.3,1210.1 L1583.6,1210.7 L1585.7,1211.8 L1587.9,1213.2 L1590.0,1214.8 L1592.1,1216.5 L1594.3,1218.1 L1596.4,1219.5 L1598.7,1220.7 L1601.0,1221.4 L1603.4,1222.1 L1605.8,1222.7 L1608.2,1223.2 L1610.7,1223.8 L1613.1,1224.2 L1615.6,1224.7 L1618.1,1225.2 L1620.6,1225.7 L1623.0,1226.2 L1625.5,1226.8 L1627.9,1227.3 L1630.4,1227.8 L1632.8,1228.3 L1635.2,1228.8 L1637.7,1229.4 L1640.1,1229.9 L1642.6,1230.5 L1645.0,1231.0 L1647.4,1231.6 L1649.9,1232.2 L1652.3,1232.8 L1654.7,1233.5 L1657.1,1234.1 L1659.5,1234.7 L1662.0,1235.3 L1664.4,1235.9 L1666.8,1236.5 L1669.3,1237.1 L1671.7,1237.7 L1674.2,1238.2 L1676.6,1238.8 L1679.0,1239.3 L1681.5,1239.8 L1684.0,1240.2 L1686.4,1240.6 L1688.9,1240.8 L1691.4,1241.1 L1693.9,1241.4 L1696.4,1241.6 L1698.8,1241.9 L1701.3,1242.1 L1703.8,1242.2 L1706.3,1242.4 L1708.8,1242.5 L1711.3,1242.5 L1713.8,1242.5 L1716.3,1242.4 L1718.8,1242.3 L1721.3,1242.2 L1723.8,1242.0 L1726.3,1241.9 L1728.8,1241.8 L1731.3,1241.7 L1733.8,1241.6 L1736.3,1241.6 L1738.8,1241.7 L1741.3,1241.8 L1743.8,1242.0 L1746.3,1242.2 L1748.8,1242.4 L1751.3,1242.6 L1753.8,1242.8 L1756.3,1242.9 L1758.8,1243.0 L1761.3,1243.0 L1763.8,1242.9 L1766.3,1242.8 L1768.8,1242.6 L1771.3,1242.4 L1773.8,1242.1 L1776.3,1241.9 L1778.7,1241.6 L1781.2,1241.4 L1783.7,1241.2 L1786.2,1241.1 L1788.7,1241.0 L1791.2,1241.0 L1793.7,1241.1 L1796.2,1241.2 L1798.7,1241.4 L1801.2,1241.6 L1803.7,1241.9 L1806.2,1242.1 L1808.7,1242.3 L1811.2,1242.4 L1813.7,1242.5 L1816.2,1242.5 L1818.7,1242.4 L1821.2,1242.2 L1823.6,1241.9 L1826.1,1241.7 L1828.6,1241.4 L1831.1,1241.1 L1833.6,1240.8 L1836.1,1240.6 L1838.6,1240.5 L1841.1,1240.5 L1843.6,1240.5 L1846.1,1240.5 L1848.6,1240.5 L1851.1,1240.5 L1853.6,1240.5 L1856.1,1240.5 L1858.6,1240.5 L1861.1,1240.6 L1863.6,1240.6 L1866.0,1240.6" fill="none" stroke="#ff0080" stroke-width="8.7" stroke-linejoin="round" stroke-linecap="butt"/>
</g>
<path d="M627.0,191.0 L627.0,1277.0" fill="none" stroke="#000" stroke-width="6.4" stroke-linecap="round" stroke-dasharray="17.6 26.7" stroke-dashoffset="0"/>
<path d="M1266.0,416.0 L1267.2,740.0 L1270.0,1100.0 L1270.3,1277.0" fill="none" stroke="#000" stroke-width="6.4" stroke-linecap="round" stroke-dasharray="17.6 26.7" stroke-dashoffset="0"/>
<line x1="160.5" y1="21.05" x2="160.5" y2="1280.7" stroke="#000" stroke-width="7.0"/>
<line x1="1866.0" y1="21.05" x2="1866.0" y2="1302.1" stroke="#000" stroke-width="7.8" stroke-linecap="round"/>
<line x1="157.0" y1="25.0" x2="1869.9" y2="25.0" stroke="#000" stroke-width="7.9"/>
<line x1="157.0" y1="1277.0" x2="1869.9" y2="1277.0" stroke="#000" stroke-width="7.4"/>
<line x1="147.7" y1="25.0" x2="159.5" y2="25.0" stroke="#000" stroke-width="7.4" stroke-linecap="round"/>
<line x1="135.6" y1="198.9" x2="159.5" y2="198.9" stroke="#000" stroke-width="7.4" stroke-linecap="round"/>
<line x1="147.7" y1="372.8" x2="159.5" y2="372.8" stroke="#000" stroke-width="7.4" stroke-linecap="round"/>
<line x1="135.6" y1="546.7" x2="159.5" y2="546.7" stroke="#000" stroke-width="7.4" stroke-linecap="round"/>
<line x1="147.7" y1="720.6" x2="159.5" y2="720.6" stroke="#000" stroke-width="7.4" stroke-linecap="round"/>
<line x1="135.6" y1="894.5" x2="159.5" y2="894.5" stroke="#000" stroke-width="7.4" stroke-linecap="round"/>
<line x1="147.7" y1="1068.4" x2="159.5" y2="1068.4" stroke="#000" stroke-width="7.4" stroke-linecap="round"/>
<line x1="135.6" y1="1242.3" x2="159.5" y2="1242.3" stroke="#000" stroke-width="7.4" stroke-linecap="round"/>
<line x1="160.5" y1="1278.0" x2="160.5" y2="1289.6" stroke="#000" stroke-width="6.8" stroke-linecap="round"/>
<line x1="198.4" y1="1278.0" x2="198.4" y2="1289.6" stroke="#000" stroke-width="6.8" stroke-linecap="round"/>
<line x1="236.3" y1="1278.0" x2="236.3" y2="1289.6" stroke="#000" stroke-width="6.8" stroke-linecap="round"/>
<line x1="274.2" y1="1278.0" x2="274.2" y2="1289.6" stroke="#000" stroke-width="6.8" stroke-linecap="round"/>
<line x1="312.1" y1="1278.0" x2="312.1" y2="1289.6" stroke="#000" stroke-width="6.8" stroke-linecap="round"/>
<line x1="350.0" y1="1278.0" x2="350.0" y2="1302.0" stroke="#000" stroke-width="6.8" stroke-linecap="round"/>
<line x1="387.9" y1="1278.0" x2="387.9" y2="1289.6" stroke="#000" stroke-width="6.8" stroke-linecap="round"/>
<line x1="425.8" y1="1278.0" x2="425.8" y2="1289.6" stroke="#000" stroke-width="6.8" stroke-linecap="round"/>
<line x1="463.7" y1="1278.0" x2="463.7" y2="1289.6" stroke="#000" stroke-width="6.8" stroke-linecap="round"/>
<line x1="501.6" y1="1278.0" x2="501.6" y2="1289.6" stroke="#000" stroke-width="6.8" stroke-linecap="round"/>
<line x1="539.5" y1="1278.0" x2="539.5" y2="1289.6" stroke="#000" stroke-width="6.8" stroke-linecap="round"/>
<line x1="577.4" y1="1278.0" x2="577.4" y2="1289.6" stroke="#000" stroke-width="6.8" stroke-linecap="round"/>
<line x1="615.3" y1="1278.0" x2="615.3" y2="1289.6" stroke="#000" stroke-width="6.8" stroke-linecap="round"/>
<line x1="653.2" y1="1278.0" x2="653.2" y2="1289.6" stroke="#000" stroke-width="6.8" stroke-linecap="round"/>
<line x1="691.1" y1="1278.0" x2="691.1" y2="1289.6" stroke="#000" stroke-width="6.8" stroke-linecap="round"/>
<line x1="729.0" y1="1278.0" x2="729.0" y2="1302.0" stroke="#000" stroke-width="6.8" stroke-linecap="round"/>
<line x1="766.9" y1="1278.0" x2="766.9" y2="1289.6" stroke="#000" stroke-width="6.8" stroke-linecap="round"/>
<line x1="804.8" y1="1278.0" x2="804.8" y2="1289.6" stroke="#000" stroke-width="6.8" stroke-linecap="round"/>
<line x1="842.7" y1="1278.0" x2="842.7" y2="1289.6" stroke="#000" stroke-width="6.8" stroke-linecap="round"/>
<line x1="880.6" y1="1278.0" x2="880.6" y2="1289.6" stroke="#000" stroke-width="6.8" stroke-linecap="round"/>
<line x1="918.5" y1="1278.0" x2="918.5" y2="1289.6" stroke="#000" stroke-width="6.8" stroke-linecap="round"/>
<line x1="956.4" y1="1278.0" x2="956.4" y2="1289.6" stroke="#000" stroke-width="6.8" stroke-linecap="round"/>
<line x1="994.3" y1="1278.0" x2="994.3" y2="1289.6" stroke="#000" stroke-width="6.8" stroke-linecap="round"/>
<line x1="1032.2" y1="1278.0" x2="1032.2" y2="1289.6" stroke="#000" stroke-width="6.8" stroke-linecap="round"/>
<line x1="1070.1" y1="1278.0" x2="1070.1" y2="1289.6" stroke="#000" stroke-width="6.8" stroke-linecap="round"/>
<line x1="1108.0" y1="1278.0" x2="1108.0" y2="1302.0" stroke="#000" stroke-width="6.8" stroke-linecap="round"/>
<line x1="1145.9" y1="1278.0" x2="1145.9" y2="1289.6" stroke="#000" stroke-width="6.8" stroke-linecap="round"/>
<line x1="1183.8" y1="1278.0" x2="1183.8" y2="1289.6" stroke="#000" stroke-width="6.8" stroke-linecap="round"/>
<line x1="1221.7" y1="1278.0" x2="1221.7" y2="1289.6" stroke="#000" stroke-width="6.8" stroke-linecap="round"/>
<line x1="1259.6" y1="1278.0" x2="1259.6" y2="1289.6" stroke="#000" stroke-width="6.8" stroke-linecap="round"/>
<line x1="1297.5" y1="1278.0" x2="1297.5" y2="1289.6" stroke="#000" stroke-width="6.8" stroke-linecap="round"/>
<line x1="1335.4" y1="1278.0" x2="1335.4" y2="1289.6" stroke="#000" stroke-width="6.8" stroke-linecap="round"/>
<line x1="1373.3" y1="1278.0" x2="1373.3" y2="1289.6" stroke="#000" stroke-width="6.8" stroke-linecap="round"/>
<line x1="1411.2" y1="1278.0" x2="1411.2" y2="1289.6" stroke="#000" stroke-width="6.8" stroke-linecap="round"/>
<line x1="1449.1" y1="1278.0" x2="1449.1" y2="1289.6" stroke="#000" stroke-width="6.8" stroke-linecap="round"/>
<line x1="1487.0" y1="1278.0" x2="1487.0" y2="1302.0" stroke="#000" stroke-width="6.8" stroke-linecap="round"/>
<line x1="1524.9" y1="1278.0" x2="1524.9" y2="1289.6" stroke="#000" stroke-width="6.8" stroke-linecap="round"/>
<line x1="1562.8" y1="1278.0" x2="1562.8" y2="1289.6" stroke="#000" stroke-width="6.8" stroke-linecap="round"/>
<line x1="1600.7" y1="1278.0" x2="1600.7" y2="1289.6" stroke="#000" stroke-width="6.8" stroke-linecap="round"/>
<line x1="1638.6" y1="1278.0" x2="1638.6" y2="1289.6" stroke="#000" stroke-width="6.8" stroke-linecap="round"/>
<line x1="1676.5" y1="1278.0" x2="1676.5" y2="1289.6" stroke="#000" stroke-width="6.8" stroke-linecap="round"/>
<line x1="1714.4" y1="1278.0" x2="1714.4" y2="1289.6" stroke="#000" stroke-width="6.8" stroke-linecap="round"/>
<line x1="1752.3" y1="1278.0" x2="1752.3" y2="1289.6" stroke="#000" stroke-width="6.8" stroke-linecap="round"/>
<line x1="1790.2" y1="1278.0" x2="1790.2" y2="1289.6" stroke="#000" stroke-width="6.8" stroke-linecap="round"/>
<line x1="1828.1" y1="1278.0" x2="1828.1" y2="1289.6" stroke="#000" stroke-width="6.8" stroke-linecap="round"/>
<line x1="242.5" y1="272.5" x2="242.5" y2="891.0" stroke="#000" stroke-width="7.0" stroke-linecap="round"/>
<path d="M230.9,891.0 L254.1,891.0 L242.5,914.8 Z" fill="#000" stroke="#000" stroke-width="6.0" stroke-linejoin="round"/>
<line x1="541.5" y1="366.8" x2="541.5" y2="604.3" stroke="#000" stroke-width="7.0" stroke-linecap="round"/>
<path d="M529.9,604.3 L553.1,604.3 L541.5,627.5 Z" fill="#000" stroke="#000" stroke-width="6.0" stroke-linejoin="round"/>
<line x1="757.2" y1="679.7" x2="757.2" y2="396.0" stroke="#000" stroke-width="7.0" stroke-linecap="round"/>
<path d="M745.4,396.0 L769.0,396.0 L757.2,373.2 Z" fill="#000" stroke="#000" stroke-width="6.0" stroke-linejoin="round"/>
<line x1="1688.7" y1="841.5" x2="1688.7" y2="1182.0" stroke="#000" stroke-width="11.3"/>
<line x1="1676.4" y1="841.5" x2="1699.5" y2="841.5" stroke="#000" stroke-width="11.3" stroke-linecap="round"/>
<line x1="1676.4" y1="1182.0" x2="1699.5" y2="1182.0" stroke="#000" stroke-width="11.3" stroke-linecap="round"/>
<text x="225.85" y="172.50" font-size="110" fill="#000" style="letter-spacing:-0.261px" >(A)</text>
<text x="554.04" y="163.30" font-size="79" fill="#000" style="letter-spacing:0.708px" >2028</text>
<text x="267.14" y="399.30" font-size="79" fill="#000" style="letter-spacing:0.039px" >30 min</text>
<text x="269.01" y="479.60" font-size="79" fill="#ff0000" style="letter-spacing:-0.750px" >40</text>
<text x="268.84" y="565.60" font-size="79" fill="#0000ff" style="letter-spacing:0.123px" >50</text>
<text x="269.24" y="650.80" font-size="79" fill="#008080" style="letter-spacing:-0.272px" >60</text>
<text x="275.43" y="835.60" font-size="79" fill="#ff0080" style="letter-spacing:-0.065px" >90</text>
<text x="1186.18" y="383.20" font-size="79" fill="#000" style="letter-spacing:0.665px" >1857</text>
<text x="1701.08" y="1029.70" font-size="70" fill="#000" style="letter-spacing:-0.675px" >0.002</text>
<text x="350.50" y="1397.80" font-size="102.5" text-anchor="middle" style="letter-spacing:0.000px">2100</text>
<text x="729.50" y="1397.80" font-size="102.5" text-anchor="middle" style="letter-spacing:0.000px">2000</text>
<text x="1108.50" y="1397.80" font-size="102.5" text-anchor="middle" style="letter-spacing:0.000px">1900</text>
<text x="1487.50" y="1397.80" font-size="102.5" text-anchor="middle" style="letter-spacing:0.000px">1800</text>
<text x="1866.50" y="1397.80" font-size="102.5" text-anchor="middle" style="letter-spacing:0.000px">1700</text>
<text x="638.25" y="1505.60" font-size="103" fill="#000" style="letter-spacing:-1.753px" >Wavenumber / cm</text>
<text x="1425.55" y="1450.60" font-size="60" fill="#000" style="letter-spacing:-1.180px" >-1</text>
<g transform="translate(87.4,886.9) rotate(-90)">
<text x="-1.03" y="0.00" font-size="103" fill="#000" style="letter-spacing:0.207px" >Absorbance</text>
</g>
</g>
<g id="panelB">
<clipPath id="clipB"><rect x="162.2" y="1526.0" width="1699.3999999999999" height="1256.4"/></clipPath>
<g clip-path="url(#clipB)">
<path d="M162.2,2754.4 L164.1,2758.8 L171.4,2756.5 L178.8,2750.1 L186.1,2746.7 L193.4,2748.1 L200.7,2750.2 L208.0,2752.0 L215.3,2748.6 L222.6,2745.1 L229.9,2745.9 L237.2,2748.9 L244.5,2749.6 L251.8,2747.5 L259.2,2745.6 L266.5,2749.2 L273.8,2753.8 L281.1,2748.6 L288.4,2743.6 L295.7,2744.7 L303.0,2744.3 L310.3,2745.3 L317.6,2750.0 L324.9,2747.4 L332.2,2742.0 L339.6,2742.8 L346.9,2743.6 L354.2,2740.3 L361.5,2740.3 L368.8,2746.7 L376.1,2751.3 L383.4,2749.3 L390.7,2748.1 L398.0,2751.2 L405.3,2751.7 L412.6,2749.7 L419.9,2750.9 L427.3,2751.2 L434.6,2746.3 L441.9,2743.9 L449.2,2748.6 L456.5,2756.9 L463.8,2754.2 L471.1,2744.2 L478.4,2739.0 L485.7,2738.0 L493.0,2738.4 L500.3,2743.7 L507.7,2744.4 L515.0,2741.5 L522.3,2741.1 L529.6,2737.1 L536.9,2726.3 L544.2,2713.2 L551.5,2689.9 L558.8,2665.3 L566.1,2627.4 L573.4,2572.2 L580.7,2517.5 L588.1,2456.3 L595.4,2380.7 L602.7,2329.5 L610.0,2291.2 L617.3,2248.7 L624.6,2211.7 L631.9,2187.5 L639.2,2179.6 L646.5,2172.9 L653.8,2166.0 L661.1,2159.2 L668.5,2152.8 L675.8,2146.3 L683.1,2138.2 L690.4,2128.5 L697.7,2118.8 L705.0,2114.5 L712.3,2117.5 L719.6,2130.8 L726.9,2155.4 L734.2,2184.1 L741.5,2213.5 L748.9,2242.7 L756.2,2272.0 L763.5,2301.3 L770.8,2331.3 L778.1,2361.7 L785.4,2382.8 L792.7,2401.0 L800.0,2419.3 L807.3,2440.5 L814.6,2464.0 L821.9,2487.4 L829.3,2508.4 L836.6,2527.3 L843.9,2545.0 L851.2,2561.6 L858.5,2577.4 L865.8,2592.3 L873.1,2606.3 L880.4,2619.5 L887.7,2632.1 L895.0,2643.9 L902.3,2655.2 L909.7,2665.6 L917.0,2672.6 L924.3,2679.7 L931.6,2691.5 L938.9,2703.4 L946.2,2707.0 L953.5,2712.0 L960.8,2723.1 L968.1,2734.8 L975.4,2741.5 L982.7,2745.8 L990.1,2747.1 L997.4,2750.2 L1004.7,2759.1 L1012.0,2758.7 L1019.3,2748.9 L1026.6,2747.9 L1033.9,2749.3 L1041.2,2746.0 L1048.5,2744.9 L1055.8,2746.6 L1063.1,2749.9 L1070.5,2752.5 L1077.8,2753.5 L1085.1,2753.0 L1092.4,2751.7 L1099.7,2747.2 L1107.0,2741.7 L1114.3,2743.2 L1121.6,2747.3 L1128.9,2746.8 L1136.2,2746.2 L1143.5,2748.9 L1150.8,2753.9 L1158.2,2754.6 L1165.5,2751.1 L1172.8,2743.2 L1180.1,2733.9 L1187.4,2729.0 L1194.7,2724.5 L1202.0,2719.3 L1209.3,2712.8 L1216.6,2705.9 L1223.9,2697.4 L1231.2,2685.9 L1238.6,2675.7 L1245.9,2666.7 L1253.2,2659.2 L1260.5,2650.3 L1267.8,2638.5 L1275.1,2626.7 L1282.4,2623.4 L1289.7,2622.2 L1297.0,2620.3 L1304.3,2622.6 L1311.6,2622.4 L1319.0,2619.7 L1326.3,2620.9 L1333.6,2625.2 L1340.9,2628.4 L1348.2,2631.0 L1355.5,2633.3 L1362.8,2632.9 L1370.1,2631.2 L1377.4,2632.2 L1384.7,2636.1 L1392.0,2640.2 L1399.4,2645.6 L1406.7,2652.4 L1414.0,2658.1 L1421.3,2661.5 L1428.6,2665.6 L1435.9,2669.5 L1443.2,2674.7 L1450.5,2675.6 L1457.8,2676.9 L1465.1,2675.1 L1472.4,2674.7 L1479.8,2683.1 L1487.1,2686.7 L1494.4,2687.5 L1501.7,2686.1 L1509.0,2682.9 L1516.3,2682.3 L1523.6,2681.9 L1530.9,2681.5 L1538.2,2680.6 L1545.5,2681.1 L1552.8,2688.1 L1560.2,2698.4 L1567.5,2698.8 L1574.8,2695.1 L1582.1,2694.0 L1589.4,2696.4 L1596.7,2694.6 L1604.0,2692.7 L1611.3,2699.1 L1618.6,2701.4 L1625.9,2698.4 L1633.2,2701.6 L1640.6,2706.0 L1647.9,2710.4 L1655.2,2713.1 L1662.5,2711.6 L1669.8,2710.9 L1677.1,2718.2 L1684.4,2724.9 L1691.7,2728.7 L1699.0,2732.2 L1706.3,2736.6 L1713.6,2737.7 L1721.0,2735.7 L1728.3,2736.2 L1735.6,2741.6 L1742.9,2750.5 L1750.2,2753.7 L1757.5,2753.9 L1764.8,2753.2 L1772.1,2751.3 L1779.4,2746.6 L1786.7,2742.9 L1794.0,2743.8 L1801.4,2742.8 L1808.7,2739.9 L1816.0,2738.8 L1823.3,2737.8 L1830.6,2739.6 L1837.9,2746.1 L1845.2,2748.7 L1852.5,2746.5 L1859.8,2744.6 L1861.6,2742.7" fill="none" stroke="#000" stroke-width="8.7" stroke-linejoin="round" stroke-linecap="butt"/>
<path d="M162.2,2748.3 L164.1,2750.2 L171.4,2751.7 L178.8,2750.1 L186.1,2750.7 L193.4,2750.1 L200.7,2745.6 L208.0,2744.0 L215.3,2746.5 L222.6,2745.6 L229.9,2744.5 L237.2,2750.0 L244.5,2753.4 L251.8,2749.9 L259.2,2749.0 L266.5,2751.6 L273.8,2755.6 L281.1,2751.4 L288.4,2744.9 L295.7,2748.8 L303.0,2756.6 L310.3,2755.5 L317.6,2753.1 L324.9,2755.0 L332.2,2756.0 L339.6,2751.9 L346.9,2750.1 L354.2,2749.3 L361.5,2747.0 L368.8,2747.2 L376.1,2747.6 L383.4,2748.3 L390.7,2752.4 L398.0,2751.0 L405.3,2747.4 L412.6,2747.6 L419.9,2744.6 L427.3,2740.2 L434.6,2742.2 L441.9,2747.0 L449.2,2750.9 L456.5,2754.9 L463.8,2753.6 L471.1,2748.7 L478.4,2746.9 L485.7,2748.3 L493.0,2748.0 L500.3,2747.3 L507.7,2744.6 L515.0,2738.6 L522.3,2737.6 L529.6,2738.3 L536.9,2730.6 L544.2,2717.5 L551.5,2701.7 L558.8,2678.3 L566.1,2643.0 L573.4,2589.9 L580.7,2534.7 L588.1,2474.4 L595.4,2392.5 L602.7,2348.1 L610.0,2315.1 L617.3,2273.5 L624.6,2233.7 L631.9,2206.2 L639.2,2187.0 L646.5,2173.0 L653.8,2160.5 L661.1,2148.2 L668.5,2133.1 L675.8,2118.0 L683.1,2104.4 L690.4,2091.2 L697.7,2086.5 L705.0,2089.4 L712.3,2090.4 L719.6,2098.5 L726.9,2121.9 L734.2,2159.4 L741.5,2193.2 L748.9,2217.8 L756.2,2250.2 L763.5,2287.0 L770.8,2316.6 L778.1,2346.0 L785.4,2371.3 L792.7,2393.2 L800.0,2414.4 L807.3,2436.4 L814.6,2459.6 L821.9,2482.4 L829.3,2503.6 L836.6,2523.0 L843.9,2541.4 L851.2,2558.7 L858.5,2575.0 L865.8,2590.3 L873.1,2604.4 L880.4,2617.6 L887.7,2630.2 L895.0,2642.4 L902.3,2654.0 L909.7,2667.6 L917.0,2677.0 L924.3,2688.4 L931.6,2697.2 L938.9,2702.9 L946.2,2708.5 L953.5,2714.4 L960.8,2717.6 L968.1,2722.7 L975.4,2735.7 L982.7,2747.6 L990.1,2754.7 L997.4,2758.2 L1004.7,2757.5 L1012.0,2748.7 L1019.3,2743.1 L1026.6,2748.4 L1033.9,2755.1 L1041.2,2757.7 L1048.5,2759.1 L1055.8,2754.4 L1063.1,2745.0 L1070.5,2743.0 L1077.8,2749.5 L1085.1,2754.6 L1092.4,2754.8 L1099.7,2753.7 L1107.0,2750.4 L1114.3,2748.8 L1121.6,2748.1 L1128.9,2747.7 L1136.2,2746.8 L1143.5,2746.8 L1150.8,2749.4 L1158.2,2749.8 L1165.5,2749.6 L1172.8,2747.3 L1180.1,2741.0 L1187.4,2733.5 L1194.7,2731.2 L1202.0,2729.7 L1209.3,2721.5 L1216.6,2711.0 L1223.9,2700.4 L1231.2,2689.3 L1238.6,2681.2 L1245.9,2670.8 L1253.2,2660.1 L1260.5,2647.9 L1267.8,2635.1 L1275.1,2627.2 L1282.4,2625.8 L1289.7,2618.9 L1297.0,2611.5 L1304.3,2612.5 L1311.6,2616.6 L1319.0,2619.4 L1326.3,2621.8 L1333.6,2626.3 L1340.9,2631.3 L1348.2,2633.2 L1355.5,2635.1 L1362.8,2636.3 L1370.1,2636.2 L1377.4,2637.5 L1384.7,2638.8 L1392.0,2641.0 L1399.4,2645.9 L1406.7,2652.2 L1414.0,2657.4 L1421.3,2660.8 L1428.6,2666.1 L1435.9,2675.3 L1443.2,2683.8 L1450.5,2684.6 L1457.8,2682.6 L1465.1,2676.2 L1472.4,2672.9 L1479.8,2685.1 L1487.1,2692.0 L1494.4,2689.3 L1501.7,2686.0 L1509.0,2684.1 L1516.3,2683.2 L1523.6,2681.8 L1530.9,2679.5 L1538.2,2680.4 L1545.5,2686.6 L1552.8,2689.5 L1560.2,2693.9 L1567.5,2702.6 L1574.8,2704.4 L1582.1,2701.8 L1589.4,2701.1 L1596.7,2695.9 L1604.0,2692.5 L1611.3,2697.6 L1618.6,2700.8 L1625.9,2704.9 L1633.2,2704.9 L1640.6,2701.6 L1647.9,2704.6 L1655.2,2706.8 L1662.5,2707.9 L1669.8,2709.3 L1677.1,2715.0 L1684.4,2721.6 L1691.7,2731.4 L1699.0,2739.4 L1706.3,2742.8 L1713.6,2741.0 L1721.0,2739.1 L1728.3,2734.9 L1735.6,2734.2 L1742.9,2747.0 L1750.2,2758.9 L1757.5,2761.6 L1764.8,2758.1 L1772.1,2754.6 L1779.4,2750.7 L1786.7,2747.2 L1794.0,2746.2 L1801.4,2749.3 L1808.7,2754.3 L1816.0,2755.0 L1823.3,2749.9 L1830.6,2741.4 L1837.9,2737.4 L1845.2,2743.9 L1852.5,2747.6 L1859.8,2744.5 L1861.6,2740.9" fill="none" stroke="#ff0000" stroke-width="8.7" stroke-linejoin="round" stroke-linecap="butt"/>
<path d="M162.2,2750.8 L164.1,2750.7 L171.4,2753.7 L178.8,2756.1 L186.1,2752.7 L193.4,2751.2 L200.7,2749.6 L208.0,2747.3 L215.3,2749.6 L222.6,2748.7 L229.9,2744.5 L237.2,2745.9 L244.5,2745.5 L251.8,2741.4 L259.2,2741.9 L266.5,2745.0 L273.8,2748.8 L281.1,2747.4 L288.4,2743.7 L295.7,2744.9 L303.0,2748.1 L310.3,2750.1 L317.6,2753.2 L324.9,2756.0 L332.2,2753.4 L339.6,2747.7 L346.9,2747.0 L354.2,2750.7 L361.5,2751.1 L368.8,2748.8 L376.1,2747.8 L383.4,2746.2 L390.7,2745.2 L398.0,2747.2 L405.3,2749.9 L412.6,2749.1 L419.9,2747.7 L427.3,2749.7 L434.6,2750.7 L441.9,2750.1 L449.2,2751.7 L456.5,2754.6 L463.8,2752.9 L471.1,2749.2 L478.4,2747.3 L485.7,2745.9 L493.0,2745.8 L500.3,2746.8 L507.7,2744.3 L515.0,2738.1 L522.3,2735.6 L529.6,2736.1 L536.9,2733.8 L544.2,2722.9 L551.5,2703.3 L558.8,2675.5 L566.1,2646.3 L573.4,2597.6 L580.7,2545.1 L588.1,2489.1 L595.4,2426.2 L602.7,2367.5 L610.0,2338.3 L617.3,2299.3 L624.6,2253.3 L631.9,2218.1 L639.2,2193.7 L646.5,2178.2 L653.8,2164.6 L661.1,2151.9 L668.5,2137.4 L675.8,2121.9 L683.1,2107.9 L690.4,2095.3 L697.7,2085.8 L705.0,2092.5 L712.3,2092.9 L719.6,2099.8 L726.9,2116.0 L734.2,2151.6 L741.5,2186.8 L748.9,2210.6 L756.2,2240.1 L763.5,2277.2 L770.8,2309.0 L778.1,2337.9 L785.4,2365.0 L792.7,2387.9 L800.0,2409.6 L807.3,2431.8 L814.6,2455.4 L821.9,2478.9 L829.3,2500.8 L836.6,2520.7 L843.9,2539.4 L851.2,2557.0 L858.5,2573.5 L865.8,2589.0 L873.1,2603.3 L880.4,2616.7 L887.7,2629.4 L895.0,2641.7 L902.3,2653.4 L909.7,2667.9 L917.0,2675.9 L924.3,2682.3 L931.6,2691.3 L938.9,2701.9 L946.2,2710.2 L953.5,2717.7 L960.8,2726.2 L968.1,2730.2 L975.4,2732.7 L982.7,2746.7 L990.1,2758.0 L997.4,2757.6 L1004.7,2753.9 L1012.0,2748.7 L1019.3,2746.1 L1026.6,2749.4 L1033.9,2748.6 L1041.2,2742.5 L1048.5,2741.0 L1055.8,2751.0 L1063.1,2756.4 L1070.5,2754.0 L1077.8,2753.8 L1085.1,2754.3 L1092.4,2753.5 L1099.7,2757.0 L1107.0,2756.9 L1114.3,2752.8 L1121.6,2751.1 L1128.9,2748.4 L1136.2,2745.9 L1143.5,2751.4 L1150.8,2755.9 L1158.2,2753.1 L1165.5,2752.4 L1172.8,2748.1 L1180.1,2742.2 L1187.4,2740.3 L1194.7,2735.4 L1202.0,2730.5 L1209.3,2725.0 L1216.6,2715.7 L1223.9,2701.9 L1231.2,2687.7 L1238.6,2680.4 L1245.9,2671.6 L1253.2,2659.1 L1260.5,2646.7 L1267.8,2636.5 L1275.1,2627.9 L1282.4,2624.7 L1289.7,2620.2 L1297.0,2614.8 L1304.3,2614.3 L1311.6,2618.7 L1319.0,2621.4 L1326.3,2621.2 L1333.6,2623.1 L1340.9,2628.1 L1348.2,2632.4 L1355.5,2635.4 L1362.8,2636.7 L1370.1,2637.2 L1377.4,2638.5 L1384.7,2641.1 L1392.0,2643.7 L1399.4,2646.6 L1406.7,2652.4 L1414.0,2660.6 L1421.3,2667.1 L1428.6,2668.8 L1435.9,2674.1 L1443.2,2679.9 L1450.5,2674.5 L1457.8,2671.7 L1465.1,2671.7 L1472.4,2677.0 L1479.8,2692.6 L1487.1,2696.8 L1494.4,2694.1 L1501.7,2688.4 L1509.0,2679.5 L1516.3,2679.8 L1523.6,2685.6 L1530.9,2685.1 L1538.2,2684.7 L1545.5,2688.0 L1552.8,2692.0 L1560.2,2700.9 L1567.5,2705.1 L1574.8,2699.5 L1582.1,2698.3 L1589.4,2699.7 L1596.7,2696.4 L1604.0,2695.0 L1611.3,2701.1 L1618.6,2704.4 L1625.9,2704.7 L1633.2,2701.7 L1640.6,2701.6 L1647.9,2706.2 L1655.2,2707.6 L1662.5,2706.7 L1669.8,2710.3 L1677.1,2719.1 L1684.4,2726.3 L1691.7,2733.4 L1699.0,2735.2 L1706.3,2737.6 L1713.6,2747.0 L1721.0,2748.4 L1728.3,2737.0 L1735.6,2733.4 L1742.9,2745.3 L1750.2,2752.5 L1757.5,2756.3 L1764.8,2760.6 L1772.1,2758.5 L1779.4,2754.7 L1786.7,2753.7 L1794.0,2753.4 L1801.4,2753.2 L1808.7,2752.4 L1816.0,2750.6 L1823.3,2753.1 L1830.6,2754.0 L1837.9,2749.1 L1845.2,2747.5 L1852.5,2749.5 L1859.8,2745.5 L1861.6,2742.1" fill="none" stroke="#0000ff" stroke-width="8.7" stroke-linejoin="round" stroke-linecap="butt"/>
<path d="M162.2,2753.6 L164.1,2751.3 L171.4,2750.2 L178.8,2751.6 L186.1,2750.1 L193.4,2747.7 L200.7,2747.3 L208.0,2750.5 L215.3,2752.3 L222.6,2747.4 L229.9,2746.2 L237.2,2750.6 L244.5,2753.1 L251.8,2754.1 L259.2,2753.5 L266.5,2747.8 L273.8,2748.7 L281.1,2749.6 L288.4,2748.7 L295.7,2749.6 L303.0,2753.6 L310.3,2758.2 L317.6,2758.3 L324.9,2755.2 L332.2,2755.2 L339.6,2753.1 L346.9,2748.5 L354.2,2750.4 L361.5,2755.0 L368.8,2752.0 L376.1,2746.9 L383.4,2748.6 L390.7,2751.2 L398.0,2750.0 L405.3,2746.8 L412.6,2746.4 L419.9,2748.0 L427.3,2746.8 L434.6,2744.8 L441.9,2744.5 L449.2,2748.2 L456.5,2756.5 L463.8,2755.1 L471.1,2746.4 L478.4,2742.2 L485.7,2745.4 L493.0,2749.0 L500.3,2749.1 L507.7,2745.5 L515.0,2740.9 L522.3,2737.8 L529.6,2732.2 L536.9,2725.9 L544.2,2718.7 L551.5,2703.7 L558.8,2682.9 L566.1,2654.2 L573.4,2611.2 L580.7,2561.9 L588.1,2509.5 L595.4,2455.7 L602.7,2396.0 L610.0,2353.9 L617.3,2322.8 L624.6,2279.4 L631.9,2234.1 L639.2,2202.2 L646.5,2182.8 L653.8,2168.0 L661.1,2155.4 L668.5,2141.1 L675.8,2124.1 L683.1,2109.8 L690.4,2096.7 L697.7,2085.8 L705.0,2085.5 L712.3,2085.4 L719.6,2091.2 L726.9,2111.7 L734.2,2142.6 L741.5,2175.9 L748.9,2200.7 L756.2,2226.6 L763.5,2262.0 L770.8,2297.3 L778.1,2325.6 L785.4,2354.6 L792.7,2378.8 L800.0,2400.7 L807.3,2422.5 L814.6,2445.6 L821.9,2469.4 L829.3,2492.0 L836.6,2512.5 L843.9,2531.3 L851.2,2548.9 L858.5,2565.5 L865.8,2581.4 L873.1,2596.5 L880.4,2610.7 L887.7,2624.2 L895.0,2637.1 L902.3,2649.4 L909.7,2655.0 L917.0,2668.2 L924.3,2681.8 L931.6,2695.0 L938.9,2705.3 L946.2,2710.7 L953.5,2716.0 L960.8,2723.5 L968.1,2731.9 L975.4,2737.7 L982.7,2740.0 L990.1,2743.5 L997.4,2753.2 L1004.7,2760.6 L1012.0,2755.5 L1019.3,2751.7 L1026.6,2755.4 L1033.9,2755.4 L1041.2,2751.4 L1048.5,2749.3 L1055.8,2749.6 L1063.1,2749.6 L1070.5,2747.3 L1077.8,2747.9 L1085.1,2752.9 L1092.4,2756.7 L1099.7,2756.8 L1107.0,2755.9 L1114.3,2758.4 L1121.6,2758.6 L1128.9,2754.5 L1136.2,2752.6 L1143.5,2752.8 L1150.8,2752.6 L1158.2,2752.0 L1165.5,2754.4 L1172.8,2751.7 L1180.1,2743.8 L1187.4,2737.2 L1194.7,2730.4 L1202.0,2725.0 L1209.3,2719.2 L1216.6,2707.2 L1223.9,2694.4 L1231.2,2686.5 L1238.6,2678.3 L1245.9,2666.8 L1253.2,2656.8 L1260.5,2647.6 L1267.8,2637.8 L1275.1,2629.0 L1282.4,2624.8 L1289.7,2622.2 L1297.0,2619.8 L1304.3,2619.7 L1311.6,2619.0 L1319.0,2620.6 L1326.3,2623.8 L1333.6,2626.3 L1340.9,2628.0 L1348.2,2630.7 L1355.5,2634.5 L1362.8,2636.5 L1370.1,2639.6 L1377.4,2641.6 L1384.7,2641.6 L1392.0,2643.8 L1399.4,2649.4 L1406.7,2654.6 L1414.0,2658.9 L1421.3,2664.2 L1428.6,2667.0 L1435.9,2669.1 L1443.2,2674.3 L1450.5,2677.0 L1457.8,2677.3 L1465.1,2672.8 L1472.4,2670.8 L1479.8,2686.1 L1487.1,2694.6 L1494.4,2694.2 L1501.7,2693.7 L1509.0,2691.4 L1516.3,2683.8 L1523.6,2678.4 L1530.9,2680.3 L1538.2,2686.1 L1545.5,2694.4 L1552.8,2697.6 L1560.2,2700.8 L1567.5,2707.1 L1574.8,2709.1 L1582.1,2705.4 L1589.4,2705.5 L1596.7,2703.1 L1604.0,2698.4 L1611.3,2700.5 L1618.6,2701.3 L1625.9,2700.9 L1633.2,2702.6 L1640.6,2704.6 L1647.9,2710.2 L1655.2,2711.9 L1662.5,2709.8 L1669.8,2710.9 L1677.1,2719.7 L1684.4,2724.2 L1691.7,2728.2 L1699.0,2732.2 L1706.3,2737.1 L1713.6,2739.8 L1721.0,2736.6 L1728.3,2727.2 L1735.6,2729.3 L1742.9,2746.7 L1750.2,2754.0 L1757.5,2749.1 L1764.8,2746.3 L1772.1,2748.5 L1779.4,2750.0 L1786.7,2748.9 L1794.0,2749.4 L1801.4,2751.7 L1808.7,2753.9 L1816.0,2751.9 L1823.3,2747.9 L1830.6,2744.6 L1837.9,2741.6 L1845.2,2741.0 L1852.5,2744.1 L1859.8,2744.4 L1861.6,2743.4" fill="none" stroke="#008080" stroke-width="8.7" stroke-linejoin="round" stroke-linecap="butt"/>
<path d="M162.2,2753.8 L164.7,2753.4 L167.2,2753.0 L169.7,2752.7 L172.2,2752.3 L174.6,2752.1 L177.1,2751.8 L179.6,2751.6 L182.1,2751.4 L184.6,2751.2 L187.1,2751.1 L189.6,2750.9 L192.1,2750.9 L194.6,2750.8 L197.1,2750.8 L199.6,2750.8 L202.1,2750.9 L204.6,2751.1 L207.1,2751.2 L209.6,2751.3 L212.1,2751.4 L214.5,2751.3 L216.9,2750.8 L219.3,2749.9 L221.7,2748.9 L224.1,2747.8 L226.5,2746.8 L228.9,2746.0 L231.2,2745.6 L233.6,2745.6 L236.0,2746.2 L238.4,2747.1 L240.8,2748.1 L243.2,2749.0 L245.6,2749.4 L248.1,2749.3 L250.6,2749.1 L253.1,2748.7 L255.6,2748.3 L258.1,2747.9 L260.6,2747.6 L263.0,2747.5 L265.4,2747.9 L267.8,2749.0 L270.1,2750.4 L272.3,2751.6 L274.6,2752.3 L276.9,2752.0 L279.1,2750.9 L281.3,2749.4 L283.5,2747.7 L285.7,2746.0 L287.9,2744.8 L290.1,2744.2 L292.4,2744.4 L294.6,2745.2 L296.8,2746.4 L299.1,2747.8 L301.4,2749.2 L303.7,2750.5 L306.0,2751.4 L308.4,2752.1 L310.8,2752.8 L313.3,2753.5 L315.7,2754.0 L318.2,2754.3 L320.7,2754.3 L323.1,2754.1 L325.6,2753.8 L328.1,2753.4 L330.6,2752.9 L333.0,2752.4 L335.5,2751.9 L338.0,2751.5 L340.5,2751.2 L342.9,2750.9 L345.4,2750.5 L347.9,2750.1 L350.4,2749.8 L352.9,2749.4 L355.4,2749.2 L357.9,2749.0 L360.3,2748.8 L362.8,2748.8 L365.3,2748.9 L367.8,2749.1 L370.3,2749.4 L372.8,2749.7 L375.3,2750.1 L377.7,2750.5 L380.2,2750.8 L382.7,2751.2 L385.2,2751.5 L387.7,2751.7 L390.2,2751.8 L392.7,2751.8 L395.2,2751.7 L397.6,2751.5 L400.1,2751.3 L402.6,2751.0 L405.1,2750.7 L407.6,2750.4 L410.1,2750.1 L412.6,2749.9 L415.1,2749.6 L417.6,2749.4 L420.1,2749.2 L422.6,2749.0 L425.2,2748.8 L427.7,2748.6 L430.2,2748.4 L432.8,2748.2 L435.3,2748.1 L437.8,2747.9 L440.2,2747.9 L442.6,2747.8 L444.9,2747.9 L447.2,2748.8 L449.5,2750.2 L451.7,2751.8 L453.9,2753.4 L456.1,2754.7 L458.3,2755.5 L460.5,2755.3 L462.7,2754.6 L465.0,2753.3 L467.2,2751.8 L469.4,2750.2 L471.7,2748.7 L474.0,2747.5 L476.3,2746.7 L478.6,2746.5 L481.1,2746.5 L483.5,2746.6 L486.1,2746.7 L488.6,2746.7 L491.1,2746.8 L493.7,2746.9 L496.2,2747.0 L498.7,2747.0 L501.1,2747.0 L503.5,2746.6 L505.9,2745.9 L508.3,2744.9 L510.6,2743.9 L513.0,2742.8 L515.3,2741.8 L517.6,2740.8 L519.9,2739.8 L522.3,2738.8 L524.6,2737.7 L526.8,2736.5 L529.0,2735.3 L531.0,2734.0 L532.9,2732.5 L534.7,2730.9 L536.5,2729.1 L538.2,2727.2 L539.8,2725.2 L541.4,2723.2 L542.9,2721.1 L544.3,2719.1 L545.6,2717.0 L546.9,2714.9 L548.2,2712.7 L549.4,2710.5 L550.5,2708.3 L551.6,2706.0 L552.7,2703.7 L553.7,2701.4 L554.6,2699.1 L555.5,2696.8 L556.3,2694.4 L557.2,2692.1 L558.0,2689.7 L558.8,2687.4 L559.6,2685.0 L560.3,2682.6 L561.0,2680.2 L561.7,2677.8 L562.4,2675.3 L563.1,2672.9 L563.7,2670.5 L564.4,2668.1 L565.0,2665.6 L565.6,2663.2 L566.1,2660.8 L566.7,2658.3 L567.2,2655.9 L567.7,2653.5 L568.2,2651.0 L568.7,2648.6 L569.2,2646.2 L569.7,2643.7 L570.2,2641.3 L570.6,2638.8 L571.1,2636.3 L571.5,2633.9 L572.0,2631.4 L572.4,2629.0 L572.8,2626.5 L573.2,2624.0 L573.6,2621.5 L574.1,2619.1 L574.5,2616.6 L574.8,2614.1 L575.2,2611.7 L575.6,2609.2 L576.0,2606.7 L576.4,2604.2 L576.8,2601.7 L577.2,2599.3 L577.6,2596.8 L577.9,2594.3 L578.3,2591.9 L578.7,2589.4 L579.1,2586.9 L579.5,2584.4 L579.9,2582.0 L580.3,2579.5 L580.7,2577.0 L581.1,2574.6 L581.5,2572.1 L581.8,2569.6 L582.2,2567.2 L582.6,2564.7 L583.0,2562.2 L583.4,2559.7 L583.7,2557.3 L584.1,2554.8 L584.5,2552.3 L584.8,2549.9 L585.2,2547.4 L585.6,2544.9 L585.9,2542.4 L586.3,2540.0 L586.6,2537.5 L587.0,2535.0 L587.4,2532.5 L587.7,2530.1 L588.1,2527.6 L588.4,2525.1 L588.8,2522.6 L589.1,2520.2 L589.5,2517.7 L589.8,2515.2 L590.2,2512.7 L590.5,2510.3 L590.9,2507.8 L591.2,2505.3 L591.6,2502.8 L592.0,2500.4 L592.3,2497.9 L592.7,2495.4 L593.0,2492.9 L593.4,2490.5 L593.7,2488.0 L594.1,2485.5 L594.5,2483.0 L594.8,2480.6 L595.2,2478.1 L595.6,2475.6 L595.9,2473.1 L596.3,2470.7 L596.7,2468.2 L597.0,2465.7 L597.4,2463.3 L597.8,2460.8 L598.1,2458.3 L598.5,2455.8 L598.8,2453.3 L599.2,2450.9 L599.5,2448.4 L599.9,2445.9 L600.2,2443.4 L600.6,2440.9 L600.9,2438.5 L601.2,2436.0 L601.6,2433.5 L601.9,2431.0 L602.3,2428.5 L602.6,2426.0 L602.9,2423.6 L603.3,2421.1 L603.6,2418.6 L604.0,2416.1 L604.3,2413.6 L604.7,2411.1 L605.0,2408.7 L605.4,2406.2 L605.8,2403.7 L606.1,2401.2 L606.5,2398.8 L606.9,2396.3 L607.3,2393.8 L607.7,2391.4 L608.1,2388.9 L608.5,2386.4 L608.9,2384.0 L609.3,2381.5 L609.8,2379.1 L610.2,2376.6 L610.7,2374.1 L611.1,2371.7 L611.6,2369.3 L612.1,2366.8 L612.6,2364.4 L613.1,2361.9 L613.6,2359.5 L614.2,2357.1 L614.9,2354.7 L615.6,2352.3 L616.3,2349.9 L617.1,2347.5 L617.8,2345.1 L618.5,2342.7 L619.2,2340.3 L619.8,2337.9 L620.3,2335.4 L620.8,2333.0 L621.4,2330.6 L621.9,2328.1 L622.3,2325.7 L622.8,2323.2 L623.3,2320.7 L623.7,2318.3 L624.2,2315.8 L624.7,2313.4 L625.1,2310.9 L625.6,2308.4 L626.1,2306.0 L626.6,2303.5 L627.1,2301.1 L627.6,2298.6 L628.1,2296.2 L628.6,2293.7 L629.0,2291.3 L629.5,2288.8 L630.0,2286.4 L630.5,2283.9 L631.0,2281.5 L631.5,2279.0 L632.0,2276.6 L632.5,2274.1 L632.9,2271.7 L633.4,2269.2 L633.9,2266.8 L634.3,2264.3 L634.8,2261.8 L635.3,2259.4 L635.7,2256.9 L636.2,2254.5 L636.7,2252.0 L637.2,2249.6 L637.7,2247.1 L638.3,2244.7 L638.9,2242.3 L639.4,2239.8 L640.0,2237.4 L640.6,2235.0 L641.2,2232.5 L641.9,2230.1 L642.5,2227.7 L643.2,2225.3 L643.8,2222.9 L644.5,2220.5 L645.2,2218.1 L645.9,2215.7 L646.6,2213.3 L647.3,2210.9 L648.1,2208.5 L648.8,2206.1 L649.6,2203.7 L650.3,2201.3 L651.1,2199.0 L651.9,2196.6 L652.7,2194.2 L653.6,2191.9 L654.4,2189.5 L655.3,2187.2 L656.2,2184.9 L657.1,2182.5 L658.0,2180.2 L658.9,2177.9 L659.8,2175.5 L660.7,2173.2 L661.6,2170.9 L662.5,2168.5 L663.3,2166.2 L664.2,2163.8 L665.1,2161.5 L666.0,2159.2 L666.8,2156.8 L667.7,2154.5 L668.6,2152.1 L669.5,2149.8 L670.4,2147.4 L671.2,2145.1 L672.1,2142.8 L673.0,2140.4 L673.8,2138.1 L674.7,2135.7 L675.6,2133.4 L676.4,2131.0 L677.3,2128.7 L678.2,2126.4 L679.1,2124.0 L680.0,2121.7 L680.9,2119.4 L681.9,2117.0 L682.8,2114.7 L683.7,2112.4 L684.7,2110.1 L685.7,2107.8 L686.7,2105.5 L687.7,2103.2 L688.8,2101.0 L690.0,2098.7 L691.1,2096.3 L692.3,2093.9 L693.6,2091.5 L694.9,2089.3 L696.4,2087.4 L698.0,2085.9 L700.0,2084.8 L702.4,2083.9 L705.0,2083.5 L707.5,2083.4 L710.0,2083.3 L712.5,2083.3 L714.8,2084.0 L717.0,2085.6 L718.8,2087.2 L720.6,2089.1 L721.9,2091.2 L722.9,2093.3 L723.8,2095.6 L724.5,2098.0 L725.3,2100.4 L725.9,2102.9 L726.5,2105.4 L727.2,2107.8 L727.8,2110.3 L728.5,2112.7 L729.2,2115.1 L729.8,2117.5 L730.5,2119.9 L731.1,2122.4 L731.7,2124.8 L732.3,2127.2 L733.0,2129.6 L733.6,2132.0 L734.2,2134.5 L734.8,2136.9 L735.5,2139.3 L736.1,2141.7 L736.7,2144.1 L737.3,2146.6 L737.9,2149.0 L738.5,2151.4 L739.1,2153.9 L739.7,2156.3 L740.3,2158.7 L740.9,2161.1 L741.5,2163.6 L742.1,2166.0 L742.7,2168.4 L743.2,2170.9 L743.8,2173.3 L744.4,2175.7 L745.0,2178.2 L745.7,2180.6 L746.3,2183.0 L747.0,2185.4 L747.7,2187.8 L748.5,2190.1 L749.4,2192.5 L750.2,2194.9 L751.0,2197.2 L751.9,2199.6 L752.7,2201.9 L753.5,2204.3 L754.2,2206.7 L754.9,2209.1 L755.6,2211.5 L756.3,2213.9 L756.9,2216.3 L757.6,2218.7 L758.2,2221.2 L758.8,2223.6 L759.4,2226.0 L760.0,2228.4 L760.6,2230.9 L761.1,2233.3 L761.7,2235.7 L762.2,2238.2 L762.7,2240.6 L763.1,2243.1 L763.6,2245.6 L764.1,2248.0 L764.6,2250.5 L765.0,2252.9 L765.5,2255.4 L766.0,2257.8 L766.4,2260.3 L766.9,2262.7 L767.4,2265.2 L767.9,2267.7 L768.4,2270.1 L768.8,2272.6 L769.3,2275.0 L769.8,2277.5 L770.3,2279.9 L770.8,2282.4 L771.2,2284.8 L771.8,2287.3 L772.3,2289.7 L772.8,2292.2 L773.4,2294.6 L773.9,2297.0 L774.5,2299.5 L775.1,2301.9 L775.7,2304.3 L776.3,2306.7 L777.0,2309.2 L777.6,2311.6 L778.2,2314.0 L778.9,2316.4 L779.5,2318.8 L780.1,2321.3 L780.7,2323.7 L781.3,2326.1 L781.9,2328.5 L782.5,2331.0 L783.1,2333.4 L783.7,2335.8 L784.3,2338.3 L784.9,2340.7 L785.5,2343.1 L786.1,2345.5 L786.7,2348.0 L787.3,2350.4 L787.9,2352.8 L788.6,2355.2 L789.2,2357.6 L789.9,2360.0 L790.6,2362.4 L791.3,2364.8 L791.9,2367.2 L792.6,2369.6 L793.4,2372.0 L794.1,2374.4 L794.8,2376.8 L795.5,2379.2 L796.2,2381.6 L797.0,2384.0 L797.7,2386.4 L798.5,2388.8 L799.2,2391.2 L799.9,2393.6 L800.7,2395.9 L801.4,2398.3 L802.2,2400.7 L802.9,2403.1 L803.7,2405.5 L804.4,2407.9 L805.2,2410.3 L805.9,2412.6 L806.7,2415.0 L807.4,2417.4 L808.2,2419.8 L808.9,2422.2 L809.6,2424.6 L810.3,2427.0 L811.1,2429.4 L811.8,2431.8 L812.5,2434.2 L813.2,2436.6 L813.9,2439.0 L814.6,2441.4 L815.3,2443.8 L816.0,2446.2 L816.7,2448.6 L817.3,2451.0 L818.0,2453.4 L818.7,2455.8 L819.4,2458.2 L820.1,2460.6 L820.8,2463.0 L821.5,2465.4 L822.2,2467.9 L822.9,2470.3 L823.6,2472.7 L824.3,2475.1 L825.0,2477.5 L825.7,2479.9 L826.4,2482.2 L827.1,2484.6 L827.9,2487.0 L828.6,2489.4 L829.4,2491.8 L830.1,2494.2 L830.9,2496.5 L831.7,2498.9 L832.4,2501.3 L833.2,2503.6 L834.0,2506.0 L834.9,2508.4 L835.7,2510.7 L836.5,2513.1 L837.4,2515.4 L838.2,2517.8 L839.0,2520.1 L839.9,2522.5 L840.8,2524.8 L841.6,2527.2 L842.5,2529.5 L843.4,2531.9 L844.3,2534.2 L845.2,2536.5 L846.1,2538.9 L847.0,2541.2 L848.0,2543.5 L848.9,2545.9 L849.8,2548.2 L850.8,2550.5 L851.7,2552.8 L852.7,2555.2 L853.6,2557.5 L854.6,2559.8 L855.6,2562.1 L856.6,2564.4 L857.6,2566.7 L858.6,2569.0 L859.6,2571.2 L860.6,2573.5 L861.6,2575.8 L862.6,2578.1 L863.7,2580.3 L864.7,2582.6 L865.8,2584.9 L866.8,2587.1 L867.9,2589.4 L869.0,2591.6 L870.1,2593.9 L871.2,2596.1 L872.3,2598.3 L873.4,2600.6 L874.6,2602.8 L875.7,2605.0 L876.9,2607.2 L878.1,2609.4 L879.3,2611.7 L880.4,2613.9 L881.6,2616.1 L882.8,2618.3 L884.1,2620.5 L885.3,2622.6 L886.5,2624.8 L887.7,2627.0 L889.0,2629.2 L890.2,2631.3 L891.5,2633.5 L892.7,2635.7 L894.0,2637.8 L895.3,2640.0 L896.5,2642.1 L897.8,2644.3 L899.1,2646.4 L900.4,2648.5 L901.7,2650.6 L903.1,2652.8 L904.4,2654.9 L905.8,2657.0 L907.1,2659.1 L908.5,2661.2 L909.9,2663.3 L911.2,2665.4 L912.6,2667.5 L914.0,2669.5 L915.5,2671.6 L916.9,2673.6 L918.3,2675.7 L919.7,2677.7 L921.2,2679.8 L922.6,2681.8 L924.1,2683.8 L925.6,2685.9 L927.0,2687.9 L928.5,2690.0 L930.0,2692.0 L931.5,2694.0 L933.1,2696.0 L934.6,2697.9 L936.2,2699.9 L937.8,2701.8 L939.4,2703.7 L941.0,2705.5 L942.7,2707.4 L944.4,2709.1 L946.2,2710.9 L948.0,2712.6 L949.9,2714.2 L951.7,2715.9 L953.6,2717.5 L955.6,2719.1 L957.5,2720.7 L959.5,2722.3 L961.4,2723.9 L963.4,2725.5 L965.3,2727.1 L967.2,2728.7 L969.1,2730.3 L971.0,2732.0 L972.9,2733.7 L974.7,2735.4 L976.5,2737.1 L978.2,2738.9 L979.9,2741.0 L981.4,2743.2 L983.0,2745.5 L984.5,2747.8 L986.1,2749.9 L987.7,2751.8 L989.5,2753.4 L991.3,2754.5 L993.4,2755.2 L995.8,2755.8 L998.4,2756.1 L1000.9,2756.2 L1003.3,2755.7 L1005.7,2754.8 L1008.0,2753.7 L1010.4,2752.5 L1012.7,2751.4 L1015.1,2750.7 L1017.5,2750.4 L1019.9,2750.7 L1022.3,2751.5 L1024.7,2752.4 L1027.2,2753.1 L1029.6,2753.3 L1032.1,2753.0 L1034.5,2752.4 L1036.9,2751.6 L1039.4,2751.0 L1041.9,2750.5 L1044.3,2750.4 L1046.8,2750.4 L1049.3,2750.4 L1051.8,2750.4 L1054.3,2750.4 L1056.8,2750.4 L1059.3,2750.4 L1061.8,2750.4 L1064.3,2750.4 L1066.8,2750.5 L1069.3,2750.8 L1071.8,2751.2 L1074.3,2751.6 L1076.7,2752.1 L1079.2,2752.5 L1081.7,2752.9 L1084.2,2753.2 L1086.7,2753.3 L1089.2,2753.3 L1091.7,2753.3 L1094.2,2753.3 L1096.7,2753.3 L1099.2,2753.3 L1101.7,2753.3 L1104.2,2753.3 L1106.7,2753.3 L1109.2,2753.3 L1111.6,2753.3 L1114.1,2753.0 L1116.5,2752.4 L1118.9,2751.7 L1121.3,2750.9 L1123.8,2750.2 L1126.2,2749.4 L1128.6,2748.8 L1131.1,2748.2 L1133.5,2747.5 L1136.0,2746.9 L1138.5,2746.4 L1140.9,2746.1 L1143.3,2746.1 L1145.6,2746.8 L1147.9,2748.1 L1150.3,2749.3 L1152.6,2750.2 L1155.0,2750.4 L1157.5,2750.2 L1160.0,2750.0 L1162.6,2749.6 L1165.0,2749.1 L1167.3,2748.6 L1169.5,2747.6 L1171.6,2746.3 L1173.7,2744.9 L1175.8,2743.3 L1177.9,2741.7 L1180.0,2740.3 L1182.2,2739.0 L1184.4,2737.8 L1186.6,2736.5 L1188.8,2735.3 L1191.1,2734.1 L1193.3,2732.8 L1195.4,2731.5 L1197.6,2730.2 L1199.6,2728.8 L1201.5,2727.3 L1203.4,2725.8 L1205.1,2724.1 L1206.7,2722.3 L1208.3,2720.3 L1209.8,2718.3 L1211.3,2716.2 L1212.8,2714.2 L1214.3,2712.1 L1215.8,2710.2 L1217.4,2708.2 L1218.9,2706.2 L1220.4,2704.2 L1222.0,2702.2 L1223.5,2700.3 L1225.1,2698.4 L1226.8,2696.5 L1228.5,2694.7 L1230.4,2693.0 L1232.2,2691.3 L1234.1,2689.6 L1235.9,2687.8 L1237.6,2686.0 L1239.1,2684.1 L1240.4,2682.1 L1241.7,2680.0 L1243.0,2677.8 L1244.1,2675.6 L1245.3,2673.3 L1246.5,2671.1 L1247.6,2668.8 L1248.9,2666.6 L1250.1,2664.5 L1251.5,2662.4 L1252.8,2660.2 L1254.1,2658.1 L1255.5,2656.0 L1256.9,2653.9 L1258.3,2651.9 L1259.7,2649.8 L1261.2,2647.8 L1262.6,2645.8 L1264.1,2643.7 L1265.6,2641.7 L1267.1,2639.7 L1268.7,2637.7 L1270.3,2635.8 L1272.0,2634.0 L1273.8,2632.3 L1275.6,2630.7 L1277.6,2629.2 L1279.7,2627.7 L1281.7,2626.3 L1283.8,2624.8 L1285.8,2623.3 L1287.7,2621.4 L1289.7,2619.4 L1291.6,2617.5 L1293.6,2616.1 L1295.7,2615.3 L1297.9,2615.2 L1300.4,2615.5 L1302.9,2615.8 L1305.5,2616.2 L1308.0,2616.7 L1310.4,2617.3 L1312.7,2618.2 L1315.0,2619.1 L1317.4,2620.1 L1319.7,2621.0 L1322.1,2621.7 L1324.5,2622.4 L1326.9,2623.1 L1329.3,2623.8 L1331.7,2624.6 L1334.1,2625.3 L1336.4,2626.2 L1338.8,2627.1 L1341.1,2628.0 L1343.4,2629.0 L1345.7,2629.9 L1348.0,2630.9 L1350.3,2631.8 L1352.6,2632.9 L1354.9,2634.0 L1357.2,2635.0 L1359.6,2636.0 L1361.9,2636.7 L1364.3,2637.1 L1366.8,2637.4 L1369.3,2637.6 L1371.8,2637.8 L1374.3,2638.0 L1376.8,2638.3 L1379.2,2638.7 L1381.6,2639.4 L1383.9,2640.3 L1386.3,2641.3 L1388.6,2642.4 L1390.8,2643.5 L1393.1,2644.6 L1395.3,2645.8 L1397.4,2647.0 L1399.6,2648.3 L1401.7,2649.7 L1403.8,2651.0 L1405.9,2652.3 L1408.1,2653.6 L1410.2,2654.9 L1412.4,2656.2 L1414.5,2657.4 L1416.7,2658.7 L1418.8,2660.0 L1420.9,2661.3 L1423.0,2662.7 L1425.1,2664.1 L1427.2,2665.5 L1429.2,2667.0 L1431.3,2668.4 L1433.3,2669.9 L1435.3,2671.4 L1437.2,2673.0 L1439.0,2675.0 L1440.9,2676.9 L1442.8,2678.5 L1444.9,2679.3 L1447.2,2679.7 L1449.7,2680.1 L1452.3,2680.3 L1454.9,2680.5 L1457.3,2680.6 L1459.7,2680.2 L1462.2,2679.1 L1464.5,2677.7 L1466.8,2676.2 L1469.0,2675.1 L1471.0,2674.8 L1472.8,2675.6 L1474.5,2677.3 L1476.1,2679.7 L1477.6,2682.4 L1479.2,2685.1 L1480.7,2687.6 L1482.4,2689.6 L1484.3,2690.7 L1486.3,2690.8 L1488.6,2690.8 L1491.2,2690.8 L1493.8,2690.8 L1496.4,2690.8 L1499.0,2690.8 L1501.5,2690.7 L1504.0,2690.4 L1506.4,2689.9 L1508.9,2689.3 L1511.3,2688.7 L1513.8,2688.1 L1516.2,2687.6 L1518.7,2687.1 L1521.2,2686.5 L1523.7,2686.0 L1526.1,2685.5 L1528.6,2685.2 L1531.0,2685.0 L1533.4,2685.1 L1535.8,2685.5 L1538.2,2686.1 L1540.6,2687.0 L1543.0,2688.0 L1545.3,2689.1 L1547.6,2690.2 L1549.9,2691.3 L1552.2,2692.4 L1554.4,2693.7 L1556.5,2695.3 L1558.6,2697.0 L1560.7,2698.6 L1562.8,2700.0 L1565.0,2700.8 L1567.3,2701.0 L1569.7,2701.0 L1572.1,2701.0 L1574.7,2701.0 L1577.2,2701.0 L1579.8,2701.0 L1582.4,2701.0 L1584.9,2701.0 L1587.3,2701.0 L1589.7,2700.5 L1592.1,2699.4 L1594.4,2698.1 L1596.7,2696.7 L1599.0,2695.7 L1601.2,2695.2 L1603.4,2695.6 L1605.6,2696.8 L1607.7,2698.6 L1609.7,2700.5 L1611.8,2702.3 L1614.0,2703.5 L1616.3,2703.9 L1618.6,2703.9 L1621.1,2703.9 L1623.7,2703.9 L1626.2,2703.9 L1628.8,2703.9 L1631.4,2703.9 L1634.0,2703.9 L1636.5,2703.9 L1638.8,2703.9 L1641.1,2704.2 L1643.3,2705.4 L1645.4,2707.1 L1647.4,2709.0 L1649.5,2710.8 L1651.6,2712.1 L1653.9,2712.6 L1656.3,2712.3 L1658.8,2711.7 L1661.4,2710.9 L1663.9,2710.1 L1666.2,2709.7 L1668.2,2709.9 L1670.1,2710.9 L1671.9,2712.6 L1673.5,2714.7 L1675.2,2717.1 L1676.9,2719.4 L1678.6,2721.5 L1680.5,2723.2 L1682.4,2724.7 L1684.5,2726.2 L1686.5,2727.7 L1688.6,2729.1 L1690.7,2730.5 L1692.8,2731.8 L1695.0,2733.1 L1697.2,2734.3 L1699.4,2735.4 L1701.6,2736.6 L1703.9,2737.8 L1706.2,2739.1 L1708.6,2740.3 L1710.9,2741.4 L1713.3,2742.3 L1715.6,2742.9 L1717.9,2743.1 L1720.1,2742.6 L1722.3,2741.2 L1724.6,2739.4 L1726.7,2737.5 L1728.9,2735.8 L1730.9,2734.7 L1732.8,2734.4 L1734.5,2735.1 L1736.2,2736.6 L1737.7,2738.6 L1739.2,2741.1 L1740.7,2743.8 L1742.2,2746.5 L1743.7,2749.1 L1745.3,2751.4 L1747.0,2753.3 L1748.8,2754.5 L1750.9,2755.0 L1753.2,2755.4 L1755.7,2755.7 L1758.3,2755.9 L1760.9,2756.1 L1763.5,2756.2 L1766.0,2756.1 L1768.4,2755.7 L1770.9,2755.2 L1773.3,2754.5 L1775.8,2753.9 L1778.2,2753.4 L1780.7,2753.1 L1783.2,2752.8 L1785.7,2752.7 L1788.2,2752.5 L1790.7,2752.2 L1793.2,2751.9 L1795.6,2751.4 L1798.0,2750.7 L1800.4,2749.8 L1802.8,2749.2 L1805.3,2749.0 L1807.8,2749.1 L1810.3,2749.4 L1812.8,2749.8 L1815.3,2750.1 L1817.8,2750.3 L1820.2,2750.4 L1822.6,2750.0 L1825.0,2749.1 L1827.3,2748.1 L1829.7,2746.9 L1832.0,2745.9 L1834.4,2745.0 L1836.8,2744.6 L1839.2,2744.5 L1841.7,2744.4 L1844.1,2744.3 L1846.6,2744.2 L1849.1,2744.2 L1851.6,2744.1 L1854.1,2744.1 L1856.7,2744.0 L1859.2,2744.0 L1861.6,2744.0" fill="none" stroke="#ff0080" stroke-width="8.7" stroke-linejoin="round" stroke-linecap="butt"/>
</g>
<path d="M705.0,1965.4 L705.0,2782.4" fill="none" stroke="#000" stroke-width="6.4" stroke-linecap="round" stroke-dasharray="17.6 26.7" stroke-dashoffset="0"/>
<path d="M1318.8,2341.1 L1318.8,2782.4" fill="none" stroke="#000" stroke-width="6.4" stroke-linecap="round" stroke-dasharray="17.6 26.7" stroke-dashoffset="0"/>
<line x1="162.2" y1="1522.05" x2="162.2" y2="2785.9" stroke="#000" stroke-width="7.7"/>
<line x1="1861.6" y1="1522.05" x2="1861.6" y2="2807.5" stroke="#000" stroke-width="7.2" stroke-linecap="round"/>
<line x1="158.35" y1="1526.0" x2="1865.1999999999998" y2="1526.0" stroke="#000" stroke-width="7.9"/>
<line x1="158.35" y1="2782.4" x2="1865.1999999999998" y2="2782.4" stroke="#000" stroke-width="7.0"/>
<line x1="149.4" y1="1526.0" x2="161.2" y2="1526.0" stroke="#000" stroke-width="7.4" stroke-linecap="round"/>
<line x1="137.3" y1="1700.6" x2="161.2" y2="1700.6" stroke="#000" stroke-width="7.4" stroke-linecap="round"/>
<line x1="149.4" y1="1875.1" x2="161.2" y2="1875.1" stroke="#000" stroke-width="7.4" stroke-linecap="round"/>
<line x1="137.3" y1="2049.7" x2="161.2" y2="2049.7" stroke="#000" stroke-width="7.4" stroke-linecap="round"/>
<line x1="149.4" y1="2224.3" x2="161.2" y2="2224.3" stroke="#000" stroke-width="7.4" stroke-linecap="round"/>
<line x1="137.3" y1="2398.8" x2="161.2" y2="2398.8" stroke="#000" stroke-width="7.4" stroke-linecap="round"/>
<line x1="149.4" y1="2573.4" x2="161.2" y2="2573.4" stroke="#000" stroke-width="7.4" stroke-linecap="round"/>
<line x1="137.3" y1="2748.0" x2="161.2" y2="2748.0" stroke="#000" stroke-width="7.4" stroke-linecap="round"/>
<line x1="162.2" y1="2783.4" x2="162.2" y2="2795.0" stroke="#000" stroke-width="6.8" stroke-linecap="round"/>
<line x1="200.0" y1="2783.4" x2="200.0" y2="2795.0" stroke="#000" stroke-width="6.8" stroke-linecap="round"/>
<line x1="237.7" y1="2783.4" x2="237.7" y2="2795.0" stroke="#000" stroke-width="6.8" stroke-linecap="round"/>
<line x1="275.5" y1="2783.4" x2="275.5" y2="2795.0" stroke="#000" stroke-width="6.8" stroke-linecap="round"/>
<line x1="313.3" y1="2783.4" x2="313.3" y2="2795.0" stroke="#000" stroke-width="6.8" stroke-linecap="round"/>
<line x1="351.0" y1="2783.4" x2="351.0" y2="2807.4" stroke="#000" stroke-width="6.8" stroke-linecap="round"/>
<line x1="388.8" y1="2783.4" x2="388.8" y2="2795.0" stroke="#000" stroke-width="6.8" stroke-linecap="round"/>
<line x1="426.6" y1="2783.4" x2="426.6" y2="2795.0" stroke="#000" stroke-width="6.8" stroke-linecap="round"/>
<line x1="464.3" y1="2783.4" x2="464.3" y2="2795.0" stroke="#000" stroke-width="6.8" stroke-linecap="round"/>
<line x1="502.1" y1="2783.4" x2="502.1" y2="2795.0" stroke="#000" stroke-width="6.8" stroke-linecap="round"/>
<line x1="539.8" y1="2783.4" x2="539.8" y2="2795.0" stroke="#000" stroke-width="6.8" stroke-linecap="round"/>
<line x1="577.6" y1="2783.4" x2="577.6" y2="2795.0" stroke="#000" stroke-width="6.8" stroke-linecap="round"/>
<line x1="615.4" y1="2783.4" x2="615.4" y2="2795.0" stroke="#000" stroke-width="6.8" stroke-linecap="round"/>
<line x1="653.1" y1="2783.4" x2="653.1" y2="2795.0" stroke="#000" stroke-width="6.8" stroke-linecap="round"/>
<line x1="690.9" y1="2783.4" x2="690.9" y2="2795.0" stroke="#000" stroke-width="6.8" stroke-linecap="round"/>
<line x1="728.7" y1="2783.4" x2="728.7" y2="2807.4" stroke="#000" stroke-width="6.8" stroke-linecap="round"/>
<line x1="766.4" y1="2783.4" x2="766.4" y2="2795.0" stroke="#000" stroke-width="6.8" stroke-linecap="round"/>
<line x1="804.2" y1="2783.4" x2="804.2" y2="2795.0" stroke="#000" stroke-width="6.8" stroke-linecap="round"/>
<line x1="842.0" y1="2783.4" x2="842.0" y2="2795.0" stroke="#000" stroke-width="6.8" stroke-linecap="round"/>
<line x1="879.7" y1="2783.4" x2="879.7" y2="2795.0" stroke="#000" stroke-width="6.8" stroke-linecap="round"/>
<line x1="917.5" y1="2783.4" x2="917.5" y2="2795.0" stroke="#000" stroke-width="6.8" stroke-linecap="round"/>
<line x1="955.3" y1="2783.4" x2="955.3" y2="2795.0" stroke="#000" stroke-width="6.8" stroke-linecap="round"/>
<line x1="993.0" y1="2783.4" x2="993.0" y2="2795.0" stroke="#000" stroke-width="6.8" stroke-linecap="round"/>
<line x1="1030.8" y1="2783.4" x2="1030.8" y2="2795.0" stroke="#000" stroke-width="6.8" stroke-linecap="round"/>
<line x1="1068.5" y1="2783.4" x2="1068.5" y2="2795.0" stroke="#000" stroke-width="6.8" stroke-linecap="round"/>
<line x1="1106.3" y1="2783.4" x2="1106.3" y2="2807.4" stroke="#000" stroke-width="6.8" stroke-linecap="round"/>
<line x1="1144.1" y1="2783.4" x2="1144.1" y2="2795.0" stroke="#000" stroke-width="6.8" stroke-linecap="round"/>
<line x1="1181.8" y1="2783.4" x2="1181.8" y2="2795.0" stroke="#000" stroke-width="6.8" stroke-linecap="round"/>
<line x1="1219.6" y1="2783.4" x2="1219.6" y2="2795.0" stroke="#000" stroke-width="6.8" stroke-linecap="round"/>
<line x1="1257.4" y1="2783.4" x2="1257.4" y2="2795.0" stroke="#000" stroke-width="6.8" stroke-linecap="round"/>
<line x1="1295.1" y1="2783.4" x2="1295.1" y2="2795.0" stroke="#000" stroke-width="6.8" stroke-linecap="round"/>
<line x1="1332.9" y1="2783.4" x2="1332.9" y2="2795.0" stroke="#000" stroke-width="6.8" stroke-linecap="round"/>
<line x1="1370.7" y1="2783.4" x2="1370.7" y2="2795.0" stroke="#000" stroke-width="6.8" stroke-linecap="round"/>
<line x1="1408.4" y1="2783.4" x2="1408.4" y2="2795.0" stroke="#000" stroke-width="6.8" stroke-linecap="round"/>
<line x1="1446.2" y1="2783.4" x2="1446.2" y2="2795.0" stroke="#000" stroke-width="6.8" stroke-linecap="round"/>
<line x1="1484.0" y1="2783.4" x2="1484.0" y2="2807.4" stroke="#000" stroke-width="6.8" stroke-linecap="round"/>
<line x1="1521.7" y1="2783.4" x2="1521.7" y2="2795.0" stroke="#000" stroke-width="6.8" stroke-linecap="round"/>
<line x1="1559.5" y1="2783.4" x2="1559.5" y2="2795.0" stroke="#000" stroke-width="6.8" stroke-linecap="round"/>
<line x1="1597.2" y1="2783.4" x2="1597.2" y2="2795.0" stroke="#000" stroke-width="6.8" stroke-linecap="round"/>
<line x1="1635.0" y1="2783.4" x2="1635.0" y2="2795.0" stroke="#000" stroke-width="6.8" stroke-linecap="round"/>
<line x1="1672.8" y1="2783.4" x2="1672.8" y2="2795.0" stroke="#000" stroke-width="6.8" stroke-linecap="round"/>
<line x1="1710.5" y1="2783.4" x2="1710.5" y2="2795.0" stroke="#000" stroke-width="6.8" stroke-linecap="round"/>
<line x1="1748.3" y1="2783.4" x2="1748.3" y2="2795.0" stroke="#000" stroke-width="6.8" stroke-linecap="round"/>
<line x1="1786.1" y1="2783.4" x2="1786.1" y2="2795.0" stroke="#000" stroke-width="6.8" stroke-linecap="round"/>
<line x1="1823.8" y1="2783.4" x2="1823.8" y2="2795.0" stroke="#000" stroke-width="6.8" stroke-linecap="round"/>
<line x1="249.4" y1="1777.5" x2="249.4" y2="2399.9" stroke="#000" stroke-width="7.0" stroke-linecap="round"/>
<path d="M237.8,2399.9 L261.0,2399.9 L249.4,2422.0 Z" fill="#000" stroke="#000" stroke-width="6.0" stroke-linejoin="round"/>
<line x1="580.2" y1="2063.1" x2="580.2" y2="2303.6" stroke="#000" stroke-width="7.0" stroke-linecap="round"/>
<path d="M568.6,2303.6 L591.8,2303.6 L580.2,2325.4 Z" fill="#000" stroke="#000" stroke-width="6.0" stroke-linejoin="round"/>
<line x1="801.2" y1="2321.0" x2="801.2" y2="2075.3" stroke="#000" stroke-width="7.0" stroke-linecap="round"/>
<path d="M789.4,2075.3 L813.0,2075.3 L801.2,2052.6 Z" fill="#000" stroke="#000" stroke-width="6.0" stroke-linejoin="round"/>
<line x1="1684.1" y1="2356.5" x2="1684.1" y2="2697.8" stroke="#000" stroke-width="10.6"/>
<line x1="1672.2" y1="2356.5" x2="1695.9" y2="2356.5" stroke="#000" stroke-width="10.6" stroke-linecap="round"/>
<line x1="1672.2" y1="2697.8" x2="1695.9" y2="2697.8" stroke="#000" stroke-width="10.6" stroke-linecap="round"/>
<text x="235.05" y="1681.00" font-size="110" fill="#000" style="letter-spacing:-0.475px" >(B)</text>
<text x="624.24" y="1929.10" font-size="79" fill="#000" style="letter-spacing:0.573px" >2010</text>
<text x="274.54" y="1903.40" font-size="79" fill="#000" style="letter-spacing:-0.221px" >30 min</text>
<text x="276.51" y="1983.50" font-size="79" fill="#ff0000" style="letter-spacing:-1.350px" >40</text>
<text x="276.34" y="2070.70" font-size="79" fill="#0000ff" style="letter-spacing:-0.377px" >50</text>
<text x="276.74" y="2155.30" font-size="79" fill="#008080" style="letter-spacing:-0.772px" >60</text>
<text x="282.43" y="2341.00" font-size="79" fill="#ff0080" style="letter-spacing:-0.165px" >90</text>
<text x="1250.88" y="2310.70" font-size="79" fill="#000" style="letter-spacing:0.394px" >1845</text>
<text x="1696.17" y="2543.20" font-size="70" fill="#000" style="letter-spacing:-1.175px" >0.002</text>
<text x="351.52" y="2903.40" font-size="102.5" text-anchor="middle" style="letter-spacing:0.000px">2100</text>
<text x="729.17" y="2903.40" font-size="102.5" text-anchor="middle" style="letter-spacing:0.000px">2000</text>
<text x="1106.81" y="2903.40" font-size="102.5" text-anchor="middle" style="letter-spacing:0.000px">1900</text>
<text x="1484.46" y="2903.40" font-size="102.5" text-anchor="middle" style="letter-spacing:0.000px">1800</text>
<text x="1862.10" y="2903.40" font-size="102.5" text-anchor="middle" style="letter-spacing:0.000px">1700</text>
<text x="643.25" y="3027.60" font-size="103" fill="#000" style="letter-spacing:-1.911px" >Wavenumber / cm</text>
<text x="1427.65" y="2972.80" font-size="60" fill="#000" style="letter-spacing:-1.480px" >-1</text>
<g transform="translate(86.9,2397.8) rotate(-90)">
<text x="-1.03" y="0.00" font-size="103" fill="#000" style="letter-spacing:-0.160px" >Absorbance</text>
</g>
</g>
</svg>
</body></html>
